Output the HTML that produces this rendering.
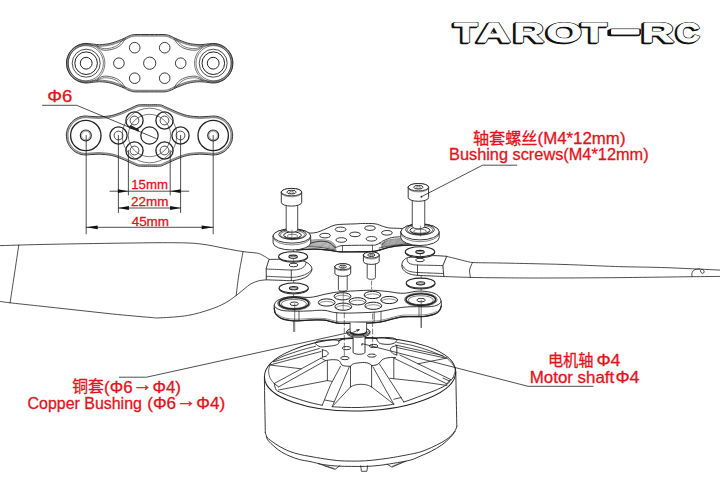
<!DOCTYPE html>
<html lang="zh"><head><meta charset="utf-8"><title>Tarot-RC bushing diagram</title>
<style>
html,body{margin:0;padding:0;background:#fff;}
body{width:720px;height:480px;overflow:hidden;}
svg{display:block;}
svg path,svg line{stroke-linecap:round;stroke-linejoin:round;}
</style></head><body>
<svg width="720" height="480" viewBox="0 0 720 480">
<rect width="720" height="480" fill="#fff"/>
<g id="part1">
<path d="M149.7 34.5 C152.7 34.5 156.12 34.48 158.7 34.5 C161.28 34.52 163.53 34.47 165.2 34.6 C166.87 34.73 167.62 34.98 168.7 35.3 C169.78 35.62 170.65 36.02 171.7 36.5 C172.75 36.98 173.42 37.48 175 38.2 C176.58 38.92 179.12 40 181.2 40.8 C183.28 41.6 185.42 42.43 187.5 43 C189.58 43.57 191.62 43.92 193.7 44.2 C195.78 44.48 198 44.7 200 44.7 C202 44.7 204.09 44.37 205.7 44.2 C207.31 44.03 208.54 43.83 209.66 43.7 C210.78 43.57 211.49 43.44 212.41 43.41 C213.33 43.38 214.26 43.41 215.17 43.51 C216.08 43.6 217 43.77 217.89 43.99 C218.78 44.21 219.67 44.5 220.52 44.84 C221.37 45.19 222.2 45.59 223 46.05 C223.8 46.51 224.57 47.03 225.29 47.6 C226.01 48.16 226.7 48.79 227.34 49.45 C227.98 50.11 228.58 50.82 229.12 51.56 C229.66 52.3 230.15 53.09 230.58 53.9 C231.01 54.72 231.39 55.56 231.71 56.43 C232.02 57.29 232.28 58.18 232.47 59.08 C232.66 59.98 232.85 60.45 232.85 61.82 C232.85 63.19 232.66 65.96 232.47 67.32 C232.28 68.68 232.02 69.11 231.71 69.97 C231.39 70.84 231.01 71.68 230.58 72.5 C230.15 73.31 229.66 74.1 229.12 74.84 C228.58 75.58 227.98 76.29 227.34 76.95 C226.7 77.61 226.01 78.24 225.29 78.8 C224.57 79.37 223.8 79.89 223 80.35 C222.2 80.81 221.37 81.21 220.52 81.56 C219.67 81.9 218.78 82.19 217.89 82.41 C217 82.63 216.08 82.8 215.17 82.89 C214.26 82.99 213.33 83.02 212.41 82.99 C211.49 82.96 210.78 82.83 209.66 82.7 C208.54 82.57 207.31 82.37 205.7 82.2 C204.09 82.03 202 81.7 200 81.7 C198 81.7 195.78 81.92 193.7 82.2 C191.62 82.48 189.58 82.83 187.5 83.4 C185.42 83.97 183.28 84.8 181.2 85.6 C179.12 86.4 176.58 87.48 175 88.2 C173.42 88.92 172.75 89.42 171.7 89.9 C170.65 90.38 169.78 90.78 168.7 91.1 C167.62 91.42 166.87 91.67 165.2 91.8 C163.53 91.93 161.28 91.88 158.7 91.9 C156.12 91.92 152.7 91.9 149.7 91.9 C146.7 91.9 143.28 91.92 140.7 91.9 C138.12 91.88 135.87 91.93 134.2 91.8 C132.53 91.67 131.78 91.42 130.7 91.1 C129.62 90.78 128.75 90.38 127.7 89.9 C126.65 89.42 125.98 88.92 124.4 88.2 C122.82 87.48 120.28 86.4 118.2 85.6 C116.12 84.8 113.98 83.97 111.9 83.4 C109.82 82.83 107.78 82.48 105.7 82.2 C103.62 81.92 101.4 81.7 99.4 81.7 C97.4 81.7 95.31 82.03 93.7 82.2 C92.09 82.37 90.86 82.57 89.74 82.7 C88.62 82.83 87.91 82.96 86.99 82.99 C86.07 83.02 85.14 82.99 84.23 82.89 C83.32 82.8 82.4 82.63 81.51 82.41 C80.62 82.19 79.73 81.9 78.88 81.56 C78.03 81.21 77.2 80.81 76.4 80.35 C75.6 79.89 74.83 79.37 74.11 78.8 C73.39 78.24 72.7 77.61 72.06 76.95 C71.42 76.29 70.82 75.58 70.28 74.84 C69.74 74.1 69.25 73.31 68.82 72.5 C68.39 71.68 68.01 70.84 67.69 69.97 C67.38 69.11 67.12 68.68 66.93 67.32 C66.74 65.96 66.55 63.19 66.55 61.82 C66.55 60.45 66.74 59.98 66.93 59.08 C67.12 58.18 67.38 57.29 67.69 56.43 C68.01 55.56 68.39 54.72 68.82 53.9 C69.25 53.09 69.74 52.3 70.28 51.56 C70.82 50.82 71.42 50.11 72.06 49.45 C72.7 48.79 73.39 48.16 74.11 47.6 C74.83 47.03 75.6 46.51 76.4 46.05 C77.2 45.59 78.03 45.19 78.88 44.84 C79.73 44.5 80.62 44.21 81.51 43.99 C82.4 43.77 83.32 43.6 84.23 43.51 C85.14 43.41 86.07 43.38 86.99 43.41 C87.91 43.44 88.62 43.57 89.74 43.7 C90.86 43.83 92.09 44.03 93.7 44.2 C95.31 44.37 97.4 44.7 99.4 44.7 C101.4 44.7 103.62 44.48 105.7 44.2 C107.78 43.92 109.82 43.57 111.9 43 C113.98 42.43 116.12 41.6 118.2 40.8 C120.28 40 122.82 38.92 124.4 38.2 C125.98 37.48 126.65 36.98 127.7 36.5 C128.75 36.02 129.62 35.62 130.7 35.3 C131.78 34.98 132.53 34.73 134.2 34.6 C135.87 34.47 138.12 34.52 140.7 34.5 C143.28 34.48 146.7 34.5 149.7 34.5" fill="#fff" stroke="#222" stroke-width="0.9"  style="stroke-linecap:butt"/>
<path d="M149.7 36.1 C152.7 36.1 156.13 36.08 158.69 36.1 C161.25 36.12 163.48 36.07 165.07 36.19 C166.67 36.32 167.26 36.54 168.25 36.84 C169.24 37.13 170.02 37.48 171.03 37.95 C172.05 38.42 172.74 38.93 174.34 39.66 C175.94 40.38 178.5 41.48 180.63 42.29 C182.75 43.11 184.94 43.96 187.08 44.54 C189.22 45.13 191.33 45.49 193.48 45.79 C195.64 46.08 197.94 46.3 200 46.3 C202.06 46.3 204.18 45.96 205.84 45.79 C207.5 45.62 208.84 45.41 209.94 45.28 C211.04 45.15 211.62 45.04 212.46 45.01 C213.31 44.98 214.16 45.01 215 45.1 C215.84 45.19 216.68 45.34 217.5 45.54 C218.32 45.74 219.14 46.01 219.92 46.33 C220.7 46.64 221.47 47.02 222.2 47.44 C222.93 47.86 223.64 48.34 224.31 48.86 C224.97 49.38 225.61 49.95 226.19 50.56 C226.78 51.16 227.33 51.82 227.82 52.5 C228.32 53.19 228.77 53.91 229.17 54.66 C229.57 55.4 229.91 56.18 230.2 56.98 C230.49 57.77 230.73 58.59 230.9 59.42 C231.08 60.24 231.26 60.67 231.26 61.93 C231.26 63.19 231.08 65.73 230.9 66.98 C230.73 68.23 230.49 68.63 230.2 69.42 C229.91 70.22 229.57 71 229.17 71.74 C228.77 72.49 228.32 73.21 227.82 73.9 C227.33 74.58 226.78 75.24 226.19 75.84 C225.61 76.45 224.97 77.02 224.31 77.54 C223.64 78.06 222.93 78.54 222.2 78.96 C221.47 79.38 220.7 79.76 219.92 80.07 C219.14 80.39 218.32 80.66 217.5 80.86 C216.68 81.06 215.84 81.21 215 81.3 C214.16 81.39 213.31 81.42 212.46 81.39 C211.62 81.36 211.04 81.25 209.94 81.12 C208.84 80.99 207.5 80.78 205.84 80.61 C204.18 80.44 202.06 80.1 200 80.1 C197.94 80.1 195.64 80.32 193.48 80.61 C191.33 80.91 189.22 81.27 187.08 81.86 C184.94 82.44 182.75 83.29 180.63 84.11 C178.5 84.92 175.94 86.02 174.34 86.74 C172.74 87.47 172.05 87.98 171.03 88.45 C170.02 88.92 169.24 89.27 168.25 89.56 C167.26 89.86 166.67 90.08 165.07 90.21 C163.48 90.33 161.25 90.28 158.69 90.3 C156.13 90.32 152.7 90.3 149.7 90.3 C146.7 90.3 143.27 90.32 140.71 90.3 C138.15 90.28 135.92 90.33 134.33 90.21 C132.73 90.08 132.14 89.86 131.15 89.56 C130.16 89.27 129.38 88.92 128.37 88.45 C127.35 87.98 126.66 87.47 125.06 86.74 C123.46 86.02 120.9 84.92 118.77 84.11 C116.65 83.29 114.46 82.44 112.32 81.86 C110.18 81.27 108.07 80.91 105.92 80.61 C103.76 80.32 101.46 80.1 99.4 80.1 C97.34 80.1 95.22 80.44 93.56 80.61 C91.9 80.78 90.56 80.99 89.46 81.12 C88.36 81.25 87.78 81.36 86.94 81.39 C86.09 81.42 85.24 81.39 84.4 81.3 C83.56 81.21 82.72 81.06 81.9 80.86 C81.08 80.66 80.26 80.39 79.48 80.07 C78.7 79.76 77.93 79.38 77.2 78.96 C76.47 78.54 75.76 78.06 75.09 77.54 C74.43 77.02 73.79 76.45 73.21 75.84 C72.62 75.24 72.07 74.58 71.58 73.9 C71.08 73.21 70.63 72.49 70.23 71.74 C69.83 71 69.49 70.22 69.2 69.42 C68.91 68.63 68.67 68.23 68.5 66.98 C68.32 65.73 68.14 63.19 68.14 61.93 C68.14 60.67 68.32 60.24 68.5 59.42 C68.67 58.59 68.91 57.77 69.2 56.98 C69.49 56.18 69.83 55.4 70.23 54.66 C70.63 53.91 71.08 53.19 71.58 52.5 C72.07 51.82 72.62 51.16 73.21 50.56 C73.79 49.95 74.43 49.38 75.09 48.86 C75.76 48.34 76.47 47.86 77.2 47.44 C77.93 47.02 78.7 46.64 79.48 46.33 C80.26 46.01 81.08 45.74 81.9 45.54 C82.72 45.34 83.56 45.19 84.4 45.1 C85.24 45.01 86.09 44.98 86.94 45.01 C87.78 45.04 88.36 45.15 89.46 45.28 C90.56 45.41 91.9 45.62 93.56 45.79 C95.22 45.96 97.34 46.3 99.4 46.3 C101.46 46.3 103.76 46.08 105.92 45.79 C108.07 45.49 110.18 45.13 112.32 44.54 C114.46 43.96 116.65 43.11 118.77 42.29 C120.9 41.48 123.46 40.38 125.06 39.66 C126.66 38.93 127.35 38.42 128.37 37.95 C129.38 37.48 130.16 37.13 131.15 36.84 C132.14 36.54 132.73 36.32 134.33 36.19 C135.92 36.07 138.15 36.12 140.71 36.1 C143.27 36.08 146.7 36.1 149.7 36.1" fill="none" stroke="#222" stroke-width="0.6"  style="stroke-linecap:butt"/>
<path d="M149.7 35.3 C152.7 35.3 156.12 35.28 158.69 35.3 C161.27 35.32 163.51 35.27 165.14 35.4 C166.77 35.53 167.44 35.76 168.48 36.07 C169.51 36.37 170.33 36.75 171.37 37.23 C172.4 37.7 173.08 38.21 174.67 38.93 C176.26 39.65 178.81 40.74 180.91 41.55 C183.02 42.35 185.18 43.2 187.29 43.77 C189.4 44.35 191.47 44.7 193.59 44.99 C195.71 45.28 197.97 45.5 200 45.5 C202.03 45.5 204.14 45.17 205.77 45 C207.4 44.83 208.69 44.62 209.8 44.49 C210.91 44.36 211.56 44.24 212.44 44.21 C213.32 44.18 214.21 44.21 215.09 44.3 C215.96 44.4 216.84 44.55 217.7 44.76 C218.55 44.98 219.4 45.25 220.22 45.58 C221.03 45.91 221.84 46.3 222.6 46.75 C223.36 47.19 224.1 47.69 224.8 48.23 C225.49 48.77 226.16 49.37 226.77 50 C227.38 50.64 227.95 51.32 228.47 52.03 C228.99 52.75 229.46 53.5 229.88 54.28 C230.29 55.06 230.65 55.87 230.95 56.7 C231.26 57.53 231.5 58.39 231.68 59.25 C231.87 60.11 232.05 60.56 232.05 61.87 C232.05 63.19 231.87 65.85 231.68 67.15 C231.5 68.45 231.26 68.87 230.95 69.7 C230.65 70.53 230.29 71.34 229.88 72.12 C229.46 72.9 228.99 73.65 228.47 74.37 C227.95 75.08 227.38 75.76 226.77 76.4 C226.16 77.03 225.49 77.63 224.8 78.17 C224.1 78.71 223.36 79.21 222.6 79.65 C221.84 80.1 221.03 80.49 220.22 80.82 C219.4 81.15 218.55 81.42 217.7 81.64 C216.84 81.85 215.96 82 215.09 82.1 C214.21 82.19 213.32 82.22 212.44 82.19 C211.56 82.16 210.91 82.04 209.8 81.91 C208.69 81.78 207.4 81.57 205.77 81.4 C204.14 81.23 202.03 80.9 200 80.9 C197.97 80.9 195.71 81.12 193.59 81.41 C191.47 81.7 189.4 82.05 187.29 82.63 C185.18 83.2 183.02 84.05 180.91 84.85 C178.81 85.66 176.26 86.75 174.67 87.47 C173.08 88.19 172.4 88.7 171.37 89.17 C170.33 89.65 169.51 90.03 168.48 90.33 C167.44 90.64 166.77 90.87 165.14 91 C163.51 91.13 161.27 91.08 158.69 91.1 C156.12 91.12 152.7 91.1 149.7 91.1 C146.7 91.1 143.28 91.12 140.71 91.1 C138.13 91.08 135.89 91.13 134.26 91 C132.63 90.87 131.96 90.64 130.92 90.33 C129.89 90.03 129.07 89.65 128.03 89.17 C127 88.7 126.32 88.19 124.73 87.47 C123.14 86.75 120.59 85.66 118.49 84.85 C116.38 84.05 114.22 83.2 112.11 82.63 C110 82.05 107.93 81.7 105.81 81.41 C103.69 81.12 101.43 80.9 99.4 80.9 C97.37 80.9 95.26 81.23 93.63 81.4 C92 81.57 90.71 81.78 89.6 81.91 C88.49 82.04 87.84 82.16 86.96 82.19 C86.08 82.22 85.19 82.19 84.31 82.1 C83.44 82 82.56 81.85 81.7 81.64 C80.85 81.42 80 81.15 79.18 80.82 C78.37 80.49 77.56 80.1 76.8 79.65 C76.04 79.21 75.3 78.71 74.6 78.17 C73.91 77.63 73.24 77.03 72.63 76.4 C72.02 75.76 71.45 75.08 70.93 74.37 C70.41 73.65 69.94 72.9 69.52 72.12 C69.11 71.34 68.75 70.53 68.45 69.7 C68.14 68.87 67.9 68.45 67.72 67.15 C67.53 65.85 67.35 63.19 67.35 61.87 C67.35 60.56 67.53 60.11 67.72 59.25 C67.9 58.39 68.14 57.53 68.45 56.7 C68.75 55.87 69.11 55.06 69.52 54.28 C69.94 53.5 70.41 52.75 70.93 52.03 C71.45 51.32 72.02 50.64 72.63 50 C73.24 49.37 73.91 48.77 74.6 48.23 C75.3 47.69 76.04 47.19 76.8 46.75 C77.56 46.3 78.37 45.91 79.18 45.58 C80 45.25 80.85 44.98 81.7 44.76 C82.56 44.55 83.44 44.4 84.31 44.3 C85.19 44.21 86.08 44.18 86.96 44.21 C87.84 44.24 88.49 44.36 89.6 44.49 C90.71 44.62 92 44.83 93.63 45 C95.26 45.17 97.37 45.5 99.4 45.5 C101.43 45.5 103.69 45.28 105.81 44.99 C107.93 44.7 110 44.35 112.11 43.77 C114.22 43.2 116.38 42.35 118.49 41.55 C120.59 40.74 123.14 39.65 124.73 38.93 C126.32 38.21 127 37.7 128.03 37.23 C129.07 36.75 129.89 36.37 130.92 36.07 C131.96 35.76 132.63 35.53 134.26 35.4 C135.89 35.27 138.13 35.32 140.71 35.3 C143.28 35.28 146.7 35.3 149.7 35.3" fill="none" stroke="#222" stroke-width="0.4"  style="stroke-linecap:butt"/>
<path d="M174.2 38.7 C174.5 39.2 175.25 40.65 176 41.7 C176.75 42.75 177.58 44 178.7 45 C179.82 46 181.23 46.97 182.7 47.7 C184.17 48.43 185.83 48.98 187.5 49.4 C189.17 49.82 191.03 50.13 192.7 50.2 C194.37 50.27 195.92 50.35 197.5 49.8 C199.08 49.25 201.42 47.38 202.2 46.9" fill="none" stroke="#222" stroke-width="0.7" />
<path d="M175.7 38.6 C176.45 39.48 178.87 42.62 180.2 43.9 C181.53 45.18 182.45 45.65 183.7 46.3 C184.95 46.95 186.2 47.42 187.7 47.8 C189.2 48.18 191.03 48.53 192.7 48.6 C194.37 48.67 195.95 48.73 197.7 48.2 C199.45 47.67 202.28 45.87 203.2 45.4" fill="none" stroke="#222" stroke-width="0.6" />
<path d="M174.2 87.7 C174.5 87.2 175.25 85.75 176 84.7 C176.75 83.65 177.58 82.4 178.7 81.4 C179.82 80.4 181.23 79.43 182.7 78.7 C184.17 77.97 185.83 77.42 187.5 77 C189.17 76.58 191.03 76.27 192.7 76.2 C194.37 76.13 195.92 76.05 197.5 76.6 C199.08 77.15 201.42 79.02 202.2 79.5" fill="none" stroke="#222" stroke-width="0.7" />
<path d="M175.7 87.8 C176.45 86.92 178.87 83.78 180.2 82.5 C181.53 81.22 182.45 80.75 183.7 80.1 C184.95 79.45 186.2 78.98 187.7 78.6 C189.2 78.22 191.03 77.87 192.7 77.8 C194.37 77.73 195.95 77.67 197.7 78.2 C199.45 78.73 202.28 80.53 203.2 81" fill="none" stroke="#222" stroke-width="0.6" />
<path d="M125.2 38.7 C124.9 39.2 124.15 40.65 123.4 41.7 C122.65 42.75 121.82 44 120.7 45 C119.58 46 118.17 46.97 116.7 47.7 C115.23 48.43 113.57 48.98 111.9 49.4 C110.23 49.82 108.37 50.13 106.7 50.2 C105.03 50.27 103.48 50.35 101.9 49.8 C100.32 49.25 97.98 47.38 97.2 46.9" fill="none" stroke="#222" stroke-width="0.7" />
<path d="M123.7 38.6 C122.95 39.48 120.53 42.62 119.2 43.9 C117.87 45.18 116.95 45.65 115.7 46.3 C114.45 46.95 113.2 47.42 111.7 47.8 C110.2 48.18 108.37 48.53 106.7 48.6 C105.03 48.67 103.45 48.73 101.7 48.2 C99.95 47.67 97.12 45.87 96.2 45.4" fill="none" stroke="#222" stroke-width="0.6" />
<path d="M125.2 87.7 C124.9 87.2 124.15 85.75 123.4 84.7 C122.65 83.65 121.82 82.4 120.7 81.4 C119.58 80.4 118.17 79.43 116.7 78.7 C115.23 77.97 113.57 77.42 111.9 77 C110.23 76.58 108.37 76.27 106.7 76.2 C105.03 76.13 103.48 76.05 101.9 76.6 C100.32 77.15 97.98 79.02 97.2 79.5" fill="none" stroke="#222" stroke-width="0.7" />
<path d="M123.7 87.8 C122.95 86.92 120.53 83.78 119.2 82.5 C117.87 81.22 116.95 80.75 115.7 80.1 C114.45 79.45 113.2 78.98 111.7 78.6 C110.2 78.22 108.37 77.87 106.7 77.8 C105.03 77.73 103.45 77.67 101.7 78.2 C99.95 78.73 97.12 80.53 96.2 81" fill="none" stroke="#222" stroke-width="0.6" />
<ellipse cx="85.75" cy="63.2" rx="19.15" ry="19.15" fill="none" stroke="#222" stroke-width="0.6" />
<ellipse cx="85.8" cy="63.2" rx="17.6" ry="17.6" fill="none" stroke="#222" stroke-width="0.6" />
<ellipse cx="86.2" cy="63.2" rx="14" ry="14" fill="none" stroke="#222" stroke-width="0.8" />
<ellipse cx="86.1" cy="63.2" rx="11.3" ry="11.3" fill="none" stroke="#222" stroke-width="1.0" />
<ellipse cx="86.2" cy="63.2" rx="5.9" ry="5.9" fill="none" stroke="#222" stroke-width="1.0" />
<ellipse cx="213.65" cy="63.2" rx="19.15" ry="19.15" fill="none" stroke="#222" stroke-width="0.6" />
<ellipse cx="213.6" cy="63.2" rx="17.6" ry="17.6" fill="none" stroke="#222" stroke-width="0.6" />
<ellipse cx="213.2" cy="63.2" rx="14" ry="14" fill="none" stroke="#222" stroke-width="0.8" />
<ellipse cx="213.3" cy="63.2" rx="11.3" ry="11.3" fill="none" stroke="#222" stroke-width="1.0" />
<ellipse cx="213.2" cy="63.2" rx="5.9" ry="5.9" fill="none" stroke="#222" stroke-width="1.0" />
<ellipse cx="149.7" cy="63.2" rx="6.1" ry="6.1" fill="none" stroke="#222" stroke-width="0.9" />
<ellipse cx="134.7" cy="47.7" rx="5.3" ry="5.3" fill="none" stroke="#222" stroke-width="0.9" />
<ellipse cx="164.7" cy="47.7" rx="5.3" ry="5.3" fill="none" stroke="#222" stroke-width="0.9" />
<ellipse cx="118.9" cy="63.2" rx="5.3" ry="5.3" fill="none" stroke="#222" stroke-width="0.9" />
<ellipse cx="180.7" cy="63.2" rx="5.3" ry="5.3" fill="none" stroke="#222" stroke-width="0.9" />
<ellipse cx="134.7" cy="78.2" rx="5.3" ry="5.3" fill="none" stroke="#222" stroke-width="0.9" />
<ellipse cx="164.7" cy="78.2" rx="5.3" ry="5.3" fill="none" stroke="#222" stroke-width="0.9" />
<path d="M149.5 104.7 C152.17 104.7 155.5 104.63 157.5 104.7 C159.5 104.77 160.28 104.78 161.5 105.1 C162.72 105.42 163.42 105.98 164.8 106.6 C166.18 107.22 168.13 108.05 169.8 108.8 C171.47 109.55 172.93 110.3 174.8 111.1 C176.67 111.9 178.92 112.87 181 113.6 C183.08 114.33 185.22 115.03 187.3 115.5 C189.38 115.97 191.42 116.18 193.5 116.4 C195.58 116.62 197.72 116.78 199.8 116.8 C201.88 116.82 204.33 116.58 206 116.5 C207.67 116.42 208.73 116.38 209.81 116.3 C210.9 116.21 211.62 116.04 212.52 116.01 C213.42 115.98 214.34 116.01 215.24 116.11 C216.14 116.2 217.04 116.36 217.92 116.58 C218.8 116.8 219.67 117.08 220.5 117.42 C221.34 117.76 222.17 118.16 222.95 118.61 C223.73 119.06 224.49 119.58 225.21 120.13 C225.92 120.69 226.6 121.3 227.23 121.95 C227.86 122.6 228.44 123.31 228.98 124.04 C229.51 124.77 229.99 125.55 230.42 126.35 C230.84 127.14 231.21 127.98 231.52 128.83 C231.83 129.68 232.09 130.56 232.27 131.45 C232.46 132.33 232.65 132.79 232.65 134.14 C232.65 135.49 232.46 138.22 232.27 139.55 C232.09 140.89 231.83 141.32 231.52 142.17 C231.21 143.02 230.84 143.86 230.42 144.65 C229.99 145.45 229.51 146.23 228.98 146.96 C228.44 147.69 227.86 148.4 227.23 149.05 C226.6 149.7 225.92 150.31 225.21 150.87 C224.49 151.42 223.73 151.94 222.95 152.39 C222.17 152.84 221.34 153.24 220.5 153.58 C219.67 153.92 218.8 154.2 217.92 154.42 C217.04 154.64 216.14 154.8 215.24 154.89 C214.34 154.99 213.42 155.02 212.52 154.99 C211.62 154.96 210.9 154.79 209.81 154.7 C208.73 154.62 207.67 154.58 206 154.5 C204.33 154.42 201.88 154.18 199.8 154.2 C197.72 154.22 195.58 154.38 193.5 154.6 C191.42 154.82 189.38 155.03 187.3 155.5 C185.22 155.97 183.08 156.67 181 157.4 C178.92 158.13 176.67 159.1 174.8 159.9 C172.93 160.7 171.47 161.45 169.8 162.2 C168.13 162.95 166.18 163.78 164.8 164.4 C163.42 165.02 162.72 165.58 161.5 165.9 C160.28 166.22 159.5 166.23 157.5 166.3 C155.5 166.37 152.17 166.3 149.5 166.3 C146.83 166.3 143.5 166.37 141.5 166.3 C139.5 166.23 138.72 166.22 137.5 165.9 C136.28 165.58 135.58 165.02 134.2 164.4 C132.82 163.78 130.87 162.95 129.2 162.2 C127.53 161.45 126.07 160.7 124.2 159.9 C122.33 159.1 120.08 158.13 118 157.4 C115.92 156.67 113.78 155.97 111.7 155.5 C109.62 155.03 107.58 154.82 105.5 154.6 C103.42 154.38 101.28 154.22 99.2 154.2 C97.12 154.18 94.67 154.42 93 154.5 C91.33 154.58 90.27 154.62 89.19 154.7 C88.1 154.79 87.38 154.96 86.48 154.99 C85.58 155.02 84.66 154.99 83.76 154.89 C82.86 154.8 81.96 154.64 81.08 154.42 C80.2 154.2 79.33 153.92 78.5 153.58 C77.66 153.24 76.83 152.84 76.05 152.39 C75.27 151.94 74.51 151.42 73.79 150.87 C73.08 150.31 72.4 149.7 71.77 149.05 C71.14 148.4 70.56 147.69 70.02 146.96 C69.49 146.23 69.01 145.45 68.58 144.65 C68.16 143.86 67.79 143.02 67.48 142.17 C67.17 141.32 66.91 140.89 66.73 139.55 C66.54 138.22 66.35 135.49 66.35 134.14 C66.35 132.79 66.54 132.33 66.73 131.45 C66.91 130.56 67.17 129.68 67.48 128.83 C67.79 127.98 68.16 127.14 68.58 126.35 C69.01 125.55 69.49 124.77 70.02 124.04 C70.56 123.31 71.14 122.6 71.77 121.95 C72.4 121.3 73.08 120.69 73.79 120.13 C74.51 119.58 75.27 119.06 76.05 118.61 C76.83 118.16 77.66 117.76 78.5 117.42 C79.33 117.08 80.2 116.8 81.08 116.58 C81.96 116.36 82.86 116.2 83.76 116.11 C84.66 116.01 85.58 115.98 86.48 116.01 C87.38 116.04 88.1 116.21 89.19 116.3 C90.27 116.38 91.33 116.42 93 116.5 C94.67 116.58 97.12 116.82 99.2 116.8 C101.28 116.78 103.42 116.62 105.5 116.4 C107.58 116.18 109.62 115.97 111.7 115.5 C113.78 115.03 115.92 114.33 118 113.6 C120.08 112.87 122.33 111.9 124.2 111.1 C126.07 110.3 127.53 109.55 129.2 108.8 C130.87 108.05 132.82 107.22 134.2 106.6 C135.58 105.98 136.28 105.42 137.5 105.1 C138.72 104.78 139.5 104.77 141.5 104.7 C143.5 104.63 146.83 104.7 149.5 104.7" fill="#fff" stroke="#222" stroke-width="0.9"  style="stroke-linecap:butt"/>
<path d="M149.5 106.3 C152.15 106.3 155.51 106.24 157.45 106.3 C159.38 106.36 159.98 106.35 161.1 106.65 C162.21 106.94 162.81 107.46 164.15 108.06 C165.49 108.66 167.47 109.51 169.14 110.26 C170.81 111.01 172.28 111.76 174.17 112.57 C176.06 113.38 178.34 114.36 180.47 115.11 C182.6 115.86 184.81 116.58 186.95 117.06 C189.09 117.54 191.2 117.77 193.33 117.99 C195.47 118.21 197.66 118.38 199.79 118.4 C201.91 118.42 204.36 118.19 206.08 118.1 C207.79 118.01 209.01 117.95 210.09 117.87 C211.17 117.79 211.75 117.64 212.58 117.61 C213.41 117.58 214.25 117.61 215.07 117.7 C215.9 117.78 216.72 117.93 217.53 118.13 C218.34 118.33 219.14 118.59 219.91 118.9 C220.68 119.21 221.43 119.58 222.15 120 C222.87 120.41 223.57 120.88 224.22 121.39 C224.87 121.91 225.5 122.47 226.08 123.07 C226.65 123.66 227.19 124.31 227.68 124.98 C228.17 125.65 228.61 126.36 229 127.1 C229.39 127.83 229.74 128.6 230.02 129.38 C230.3 130.16 230.54 130.97 230.71 131.78 C230.88 132.59 231.06 133.01 231.06 134.25 C231.06 135.49 230.88 137.99 230.71 139.22 C230.54 140.45 230.3 140.84 230.02 141.62 C229.74 142.4 229.39 143.17 229 143.9 C228.61 144.64 228.17 145.35 227.68 146.02 C227.19 146.69 226.65 147.34 226.08 147.93 C225.5 148.53 224.87 149.09 224.22 149.61 C223.57 150.12 222.87 150.59 222.15 151 C221.43 151.42 220.68 151.79 219.91 152.1 C219.14 152.41 218.34 152.67 217.53 152.87 C216.72 153.07 215.9 153.22 215.07 153.3 C214.25 153.39 213.41 153.42 212.58 153.39 C211.75 153.36 211.17 153.21 210.09 153.13 C209.01 153.05 207.79 152.99 206.08 152.9 C204.36 152.81 201.91 152.58 199.79 152.6 C197.66 152.62 195.47 152.79 193.33 153.01 C191.2 153.23 189.09 153.46 186.95 153.94 C184.81 154.42 182.6 155.14 180.47 155.89 C178.34 156.64 176.06 157.62 174.17 158.43 C172.28 159.24 170.81 159.99 169.14 160.74 C167.47 161.49 165.49 162.34 164.15 162.94 C162.81 163.54 162.21 164.06 161.1 164.35 C159.98 164.65 159.38 164.64 157.45 164.7 C155.51 164.76 152.15 164.7 149.5 164.7 C146.85 164.7 143.49 164.76 141.55 164.7 C139.62 164.64 139.02 164.65 137.9 164.35 C136.79 164.06 136.19 163.54 134.85 162.94 C133.51 162.34 131.53 161.49 129.86 160.74 C128.19 159.99 126.72 159.24 124.83 158.43 C122.94 157.62 120.66 156.64 118.53 155.89 C116.4 155.14 114.19 154.42 112.05 153.94 C109.91 153.46 107.8 153.23 105.67 153.01 C103.53 152.79 101.34 152.62 99.21 152.6 C97.09 152.58 94.64 152.81 92.92 152.9 C91.21 152.99 89.99 153.05 88.91 153.13 C87.83 153.21 87.25 153.36 86.42 153.39 C85.59 153.42 84.75 153.39 83.93 153.3 C83.1 153.22 82.28 153.07 81.47 152.87 C80.66 152.67 79.86 152.41 79.09 152.1 C78.32 151.79 77.57 151.42 76.85 151 C76.13 150.59 75.43 150.12 74.78 149.61 C74.13 149.09 73.5 148.53 72.92 147.93 C72.35 147.34 71.81 146.69 71.32 146.02 C70.83 145.35 70.39 144.64 70 143.9 C69.61 143.17 69.26 142.4 68.98 141.62 C68.7 140.84 68.46 140.45 68.29 139.22 C68.12 137.99 67.94 135.49 67.94 134.25 C67.94 133.01 68.12 132.59 68.29 131.78 C68.46 130.97 68.7 130.16 68.98 129.38 C69.26 128.6 69.61 127.83 70 127.1 C70.39 126.36 70.83 125.65 71.32 124.98 C71.81 124.31 72.35 123.66 72.92 123.07 C73.5 122.47 74.13 121.91 74.78 121.39 C75.43 120.88 76.13 120.41 76.85 120 C77.57 119.58 78.32 119.21 79.09 118.9 C79.86 118.59 80.66 118.33 81.47 118.13 C82.28 117.93 83.1 117.78 83.93 117.7 C84.75 117.61 85.59 117.58 86.42 117.61 C87.25 117.64 87.83 117.79 88.91 117.87 C89.99 117.95 91.21 118.01 92.92 118.1 C94.64 118.19 97.09 118.42 99.21 118.4 C101.34 118.38 103.53 118.21 105.67 117.99 C107.8 117.77 109.91 117.54 112.05 117.06 C114.19 116.58 116.4 115.86 118.53 115.11 C120.66 114.36 122.94 113.38 124.83 112.57 C126.72 111.76 128.19 111.01 129.86 110.26 C131.53 109.51 133.51 108.66 134.85 108.06 C136.19 107.46 136.79 106.94 137.9 106.65 C139.02 106.35 139.62 106.36 141.55 106.3 C143.49 106.24 146.85 106.3 149.5 106.3" fill="none" stroke="#222" stroke-width="0.6"  style="stroke-linecap:butt"/>
<path d="M149.5 105.5 C152.16 105.5 155.51 105.44 157.47 105.5 C159.44 105.56 160.13 105.57 161.3 105.87 C162.47 106.18 163.11 106.72 164.47 107.33 C165.84 107.94 167.8 108.78 169.47 109.53 C171.14 110.28 172.61 111.03 174.48 111.84 C176.36 112.64 178.63 113.61 180.73 114.35 C182.84 115.1 185.01 115.81 187.13 116.28 C189.24 116.75 191.31 116.98 193.42 117.2 C195.53 117.42 197.69 117.58 199.79 117.6 C201.9 117.62 204.35 117.39 206.04 117.3 C207.73 117.21 208.87 117.17 209.95 117.08 C211.04 117 211.68 116.84 212.55 116.81 C213.41 116.78 214.29 116.81 215.15 116.9 C216.02 116.99 216.88 117.15 217.72 117.36 C218.57 117.57 219.4 117.84 220.21 118.16 C221.01 118.49 221.8 118.87 222.55 119.31 C223.3 119.74 224.03 120.23 224.71 120.76 C225.4 121.3 226.05 121.89 226.65 122.51 C227.25 123.13 227.82 123.81 228.33 124.51 C228.84 125.21 229.3 125.95 229.71 126.72 C230.12 127.49 230.48 128.29 230.77 129.1 C231.07 129.92 231.31 130.76 231.49 131.61 C231.67 132.46 231.85 132.9 231.85 134.2 C231.85 135.49 231.67 138.1 231.49 139.39 C231.31 140.67 231.07 141.08 230.77 141.9 C230.48 142.71 230.12 143.51 229.71 144.28 C229.3 145.05 228.84 145.79 228.33 146.49 C227.82 147.19 227.25 147.87 226.65 148.49 C226.05 149.11 225.4 149.7 224.71 150.24 C224.03 150.77 223.3 151.26 222.55 151.69 C221.8 152.13 221.01 152.51 220.21 152.84 C219.4 153.16 218.57 153.43 217.72 153.64 C216.88 153.85 216.02 154.01 215.15 154.1 C214.29 154.19 213.41 154.22 212.55 154.19 C211.68 154.16 211.04 154 209.95 153.92 C208.87 153.83 207.73 153.79 206.04 153.7 C204.35 153.61 201.9 153.38 199.79 153.4 C197.69 153.42 195.53 153.58 193.42 153.8 C191.31 154.02 189.24 154.25 187.13 154.72 C185.01 155.19 182.84 155.9 180.73 156.65 C178.63 157.39 176.36 158.36 174.48 159.16 C172.61 159.97 171.14 160.72 169.47 161.47 C167.8 162.22 165.84 163.06 164.47 163.67 C163.11 164.28 162.47 164.82 161.3 165.13 C160.13 165.43 159.44 165.44 157.47 165.5 C155.51 165.56 152.16 165.5 149.5 165.5 C146.84 165.5 143.49 165.56 141.53 165.5 C139.56 165.44 138.87 165.43 137.7 165.13 C136.53 164.82 135.89 164.28 134.53 163.67 C133.16 163.06 131.2 162.22 129.53 161.47 C127.86 160.72 126.39 159.97 124.52 159.16 C122.64 158.36 120.37 157.39 118.27 156.65 C116.16 155.9 113.99 155.19 111.87 154.72 C109.76 154.25 107.69 154.02 105.58 153.8 C103.47 153.58 101.31 153.42 99.21 153.4 C97.1 153.38 94.65 153.61 92.96 153.7 C91.27 153.79 90.13 153.83 89.05 153.92 C87.96 154 87.32 154.16 86.45 154.19 C85.59 154.22 84.71 154.19 83.85 154.1 C82.98 154.01 82.12 153.85 81.28 153.64 C80.43 153.43 79.6 153.16 78.79 152.84 C77.99 152.51 77.2 152.13 76.45 151.69 C75.7 151.26 74.97 150.77 74.29 150.24 C73.6 149.7 72.95 149.11 72.35 148.49 C71.75 147.87 71.18 147.19 70.67 146.49 C70.16 145.79 69.7 145.05 69.29 144.28 C68.88 143.51 68.52 142.71 68.23 141.9 C67.93 141.08 67.69 140.67 67.51 139.39 C67.33 138.1 67.15 135.49 67.15 134.2 C67.15 132.9 67.33 132.46 67.51 131.61 C67.69 130.76 67.93 129.92 68.23 129.1 C68.52 128.29 68.88 127.49 69.29 126.72 C69.7 125.95 70.16 125.21 70.67 124.51 C71.18 123.81 71.75 123.13 72.35 122.51 C72.95 121.89 73.6 121.3 74.29 120.76 C74.97 120.23 75.7 119.74 76.45 119.31 C77.2 118.87 77.99 118.49 78.79 118.16 C79.6 117.84 80.43 117.57 81.28 117.36 C82.12 117.15 82.98 116.99 83.85 116.9 C84.71 116.81 85.59 116.78 86.45 116.81 C87.32 116.84 87.96 117 89.05 117.08 C90.13 117.17 91.27 117.21 92.96 117.3 C94.65 117.39 97.1 117.62 99.21 117.6 C101.31 117.58 103.47 117.42 105.58 117.2 C107.69 116.98 109.76 116.75 111.87 116.28 C113.99 115.81 116.16 115.1 118.27 114.35 C120.37 113.61 122.64 112.64 124.52 111.84 C126.39 111.03 127.86 110.28 129.53 109.53 C131.2 108.78 133.16 107.94 134.53 107.33 C135.89 106.72 136.53 106.18 137.7 105.87 C138.87 105.57 139.56 105.56 141.53 105.5 C143.49 105.44 146.84 105.5 149.5 105.5" fill="none" stroke="#222" stroke-width="0.4"  style="stroke-linecap:butt"/>
<ellipse cx="149.5" cy="135.5" rx="27.3" ry="27.3" fill="none" stroke="#222" stroke-width="0.6" />
<ellipse cx="85.8" cy="135.5" rx="15.2" ry="15.2" fill="none" stroke="#222" stroke-width="1.3" />
<ellipse cx="85.8" cy="135.5" rx="5.5" ry="5.5" fill="none" stroke="#222" stroke-width="1.1" />
<ellipse cx="85.8" cy="135.5" rx="4.3" ry="4.3" fill="none" stroke="#222" stroke-width="0.4" />
<ellipse cx="213.2" cy="135.5" rx="15.2" ry="15.2" fill="none" stroke="#222" stroke-width="1.3" />
<ellipse cx="213.2" cy="135.5" rx="5.5" ry="5.5" fill="none" stroke="#222" stroke-width="1.1" />
<ellipse cx="213.2" cy="135.5" rx="4.3" ry="4.3" fill="none" stroke="#222" stroke-width="0.4" />
<ellipse cx="149.5" cy="135.5" rx="8.7" ry="8.7" fill="none" stroke="#222" stroke-width="1.2" />
<ellipse cx="134.5" cy="120.5" rx="8.6" ry="8.6" fill="none" stroke="#222" stroke-width="1.3" />
<ellipse cx="134.5" cy="120.5" rx="4.4" ry="4.4" fill="none" stroke="#222" stroke-width="0.8" />
<ellipse cx="164.5" cy="120.5" rx="8.6" ry="8.6" fill="none" stroke="#222" stroke-width="1.3" />
<ellipse cx="164.5" cy="120.5" rx="4.4" ry="4.4" fill="none" stroke="#222" stroke-width="0.8" />
<ellipse cx="118.5" cy="135.5" rx="8.6" ry="8.6" fill="none" stroke="#222" stroke-width="1.3" />
<ellipse cx="118.5" cy="135.5" rx="4.4" ry="4.4" fill="none" stroke="#222" stroke-width="0.8" />
<ellipse cx="180.5" cy="135.5" rx="8.6" ry="8.6" fill="none" stroke="#222" stroke-width="1.3" />
<ellipse cx="180.5" cy="135.5" rx="4.4" ry="4.4" fill="none" stroke="#222" stroke-width="0.8" />
<ellipse cx="134.5" cy="150.5" rx="8.6" ry="8.6" fill="none" stroke="#222" stroke-width="1.3" />
<ellipse cx="134.5" cy="150.5" rx="4.4" ry="4.4" fill="none" stroke="#222" stroke-width="0.8" />
<ellipse cx="164.5" cy="150.5" rx="8.6" ry="8.6" fill="none" stroke="#222" stroke-width="1.3" />
<ellipse cx="164.5" cy="150.5" rx="4.4" ry="4.4" fill="none" stroke="#222" stroke-width="0.8" />
<ellipse cx="149.5" cy="135.5" rx="21.2" ry="21.2" fill="none" stroke="#222" stroke-width="0.6" />
<path d="M42.6 105.3 L76.7 105.3 L156.4 138.6" fill="none" stroke="#222" stroke-width="0.8" />
<path d="M130.5 126.3 L138 130.3" fill="none" stroke="#222" stroke-width="2.2" />
<line x1="86.2" y1="135.5" x2="86.2" y2="233.8" stroke="#222" stroke-width="0.8" />
<line x1="213.2" y1="135.5" x2="213.2" y2="233.8" stroke="#222" stroke-width="0.8" />
<line x1="118.4" y1="135.5" x2="118.4" y2="212.5" stroke="#222" stroke-width="0.8" />
<line x1="180.6" y1="135.5" x2="180.6" y2="212.5" stroke="#222" stroke-width="0.8" />
<line x1="128.4" y1="150.5" x2="128.4" y2="195" stroke="#222" stroke-width="0.8" />
<line x1="170.2" y1="150.5" x2="170.2" y2="195" stroke="#222" stroke-width="0.8" />
<line x1="110" y1="191.2" x2="188.8" y2="191.2" stroke="#222" stroke-width="0.8" />
<path d="M128.4 191.2 L117.9 189.3 L117.9 193.1Z" fill="#111"/>
<path d="M170.2 191.2 L180.7 189.3 L180.7 193.1Z" fill="#111"/>
<line x1="118.4" y1="208" x2="180.6" y2="208" stroke="#222" stroke-width="0.8" />
<path d="M118.4 208 L128.9 206.1 L128.9 209.9Z" fill="#111"/>
<path d="M180.6 208 L170.1 206.1 L170.1 209.9Z" fill="#111"/>
<line x1="86.2" y1="227.3" x2="213.2" y2="227.3" stroke="#222" stroke-width="0.8" />
<path d="M86.2 227.3 L97.7 225.4 L97.7 229.2Z" fill="#111"/>
<path d="M213.2 227.3 L201.7 225.4 L201.7 229.2Z" fill="#111"/>
</g>
<g id="part_motor">
<path d="M264.75 379.69 C264.7 379.19 264.43 377.69 264.44 376.69 C264.44 375.69 264.55 374.68 264.76 373.67 C264.98 372.67 265.3 371.66 265.73 370.66 C266.16 369.66 266.7 368.66 267.34 367.67 C267.98 366.69 268.72 365.7 269.57 364.73 C270.41 363.76 271.36 362.8 272.4 361.85 C273.45 360.91 274.59 359.97 275.83 359.06 C277.07 358.14 278.4 357.24 279.82 356.36 C281.24 355.49 282.76 354.63 284.36 353.79 C285.95 352.96 287.64 352.14 289.4 351.36 C291.16 350.57 293 349.81 294.92 349.08 C296.83 348.35 298.82 347.64 300.87 346.97 C302.92 346.3 305.05 345.65 307.23 345.04 C309.4 344.43 311.65 343.85 313.94 343.31 C316.23 342.77 318.57 342.26 320.96 341.79 C323.34 341.32 325.78 340.88 328.24 340.49 C330.71 340.09 333.21 339.73 335.74 339.41 C338.27 339.09 340.83 338.81 343.4 338.57 C345.98 338.33 348.58 338.13 351.18 337.97 C353.78 337.81 356.4 337.69 359.01 337.62 C361.62 337.54 364.25 337.5 366.85 337.51 C369.46 337.51 372.07 337.56 374.65 337.65 C377.23 337.73 379.81 337.86 382.35 338.03 C384.89 338.2 387.41 338.41 389.9 338.66 C392.38 338.91 394.84 339.2 397.25 339.53 C399.65 339.86 402.03 340.22 404.34 340.63 C406.66 341.03 408.93 341.48 411.14 341.96 C413.35 342.44 415.51 342.95 417.6 343.5 C419.69 344.05 421.72 344.64 423.67 345.26 C425.63 345.87 427.51 346.53 429.32 347.21 C431.12 347.89 432.85 348.6 434.5 349.34 C436.14 350.07 437.7 350.84 439.17 351.63 C440.64 352.43 442.03 353.25 443.32 354.09 C444.61 354.93 445.81 355.79 446.91 356.67 C448 357.55 449.01 358.46 449.91 359.38 C450.81 360.3 451.61 361.24 452.31 362.18 C453 363.13 453.6 364.1 454.08 365.07 C454.57 366.04 454.96 367.03 455.23 368.02 C455.51 369.01 455.68 370.01 455.74 371.01 C455.8 372.01 455.62 373.52 455.6 374.03 L456.8 428 L455.2 431.5 C454.33 432.53 452.25 435.45 450 437.7 C447.75 439.95 444.82 442.74 441.7 445 C438.57 447.26 434.73 449.43 431.25 451.25 C427.77 453.07 424.28 454.42 420.8 455.9 C417.32 457.38 414.98 458.87 410.4 460.1 C405.82 461.33 398.47 462.42 393.3 463.3 C388.13 464.18 384.02 464.88 379.4 465.4 C374.78 465.92 370.22 466.23 365.6 466.4 C360.98 466.57 356.33 466.45 351.7 466.4 C347.07 466.35 342.43 466.38 337.8 466.1 C333.17 465.82 328.53 465.47 323.9 464.7 C319.27 463.93 314.03 462.35 310 461.5 C305.97 460.65 303.16 460.53 299.7 459.6 C296.24 458.67 292.73 457.47 289.25 455.9 C285.77 454.33 282.28 452.72 278.8 450.2 C275.32 447.68 270.45 443.08 268.4 440.8 C266.35 438.52 266.82 437.22 266.5 436.5 L265.3 433 Z" fill="#fff" stroke="none"/>
<path d="M318.3 463.6 L335 469.4 L339.9 465.6" fill="#fff" stroke="#222" stroke-width="0.8" />
<path d="M324.5 465.6 L334.2 468.4" fill="none" stroke="#222" stroke-width="0.6" />
<path d="M360.7 465.8 L361.4 471.3 L366.9 471.3 L367.6 465.8" fill="#fff" stroke="#222" stroke-width="0.8" />
<path d="M387.1 464.2 L391.9 467.1 L405.8 461.2" fill="#fff" stroke="#222" stroke-width="0.8" />
<path d="M392.5 466.2 L402 462.3" fill="none" stroke="#222" stroke-width="0.6" />
<path d="M264.4 377 C264.45 380.83 264.58 392.83 264.7 400 C264.82 407.17 265 414.58 265.1 420 C265.2 425.42 265.27 430.42 265.3 432.5" fill="none" stroke="#222" stroke-width="0.9" />
<path d="M455.8 372 C455.87 375.83 456.07 387.83 456.2 395 C456.33 402.17 456.5 409.78 456.6 415 C456.7 420.22 456.77 424.42 456.8 426.3" fill="none" stroke="#222" stroke-width="0.9" />
<path d="M265.3 432.5 C265.47 433 265.78 434.46 266.3 435.5 C266.82 436.54 266.32 437 268.4 438.75 C270.48 440.5 275.32 443.92 278.8 446 C282.28 448.08 285.77 449.85 289.25 451.25 C292.73 452.65 296.24 453.54 299.7 454.4 C303.16 455.26 305.97 455.67 310 456.4 C314.03 457.12 319.27 458.05 323.9 458.75 C328.53 459.45 333.17 460.21 337.8 460.6 C342.43 460.99 347.07 461.07 351.7 461.1 C356.33 461.13 360.98 461.08 365.6 460.8 C370.22 460.52 374.78 459.97 379.4 459.4 C384.02 458.83 388.13 458.27 393.3 457.4 C398.47 456.53 405.82 455.13 410.4 454.2 C414.98 453.27 417.32 452.9 420.8 451.8 C424.28 450.7 427.77 449.17 431.25 447.6 C434.73 446.03 438.57 444.22 441.7 442.4 C444.82 440.58 447.75 438.7 450 436.7 C452.25 434.7 454.07 432.14 455.2 430.4 C456.33 428.66 456.53 426.94 456.8 426.25" fill="none" stroke="#222" stroke-width="0.9" />
<path d="M266.5 436.5 C266.82 437.22 266.35 438.52 268.4 440.8 C270.45 443.08 275.32 447.68 278.8 450.2 C282.28 452.72 285.77 454.33 289.25 455.9 C292.73 457.47 296.24 458.67 299.7 459.6 C303.16 460.53 305.97 460.65 310 461.5 C314.03 462.35 319.27 463.93 323.9 464.7 C328.53 465.47 333.17 465.82 337.8 466.1 C342.43 466.38 347.07 466.35 351.7 466.4 C356.33 466.45 360.98 466.57 365.6 466.4 C370.22 466.23 374.78 465.92 379.4 465.4 C384.02 464.88 388.13 464.18 393.3 463.3 C398.47 462.42 405.82 461.33 410.4 460.1 C414.98 458.87 417.32 457.38 420.8 455.9 C424.28 454.42 427.77 453.07 431.25 451.25 C434.73 449.43 438.57 447.26 441.7 445 C444.82 442.74 447.75 439.95 450 437.7 C452.25 435.45 454.33 432.53 455.2 431.5" fill="none" stroke="#222" stroke-width="0.9" />
<ellipse cx="360.1" cy="374.3" rx="95.7" ry="36.7" fill="none" stroke="#222" stroke-width="1.0" transform="rotate(-1.7 360.1 374.3)"/>
<path d="M274.3 383.5 C274.63 384.58 274.85 388.35 276.3 390 C277.75 391.65 280.5 392.28 283 393.4 C285.5 394.52 287.13 395.27 291.3 396.7 C295.47 398.13 302.85 400.57 308 402 C313.15 403.43 319.83 404.75 322.2 405.3" fill="none" stroke="#222" stroke-width="0.9" />
<path d="M332.2 406.7 C334.33 406.82 340.7 407.27 345 407.4 C349.3 407.53 353.33 407.62 358 407.5 C362.67 407.38 368.5 407.03 373 406.7 C377.5 406.37 381.53 405.92 385 405.5 C388.47 405.08 392.33 404.42 393.8 404.2" fill="none" stroke="#222" stroke-width="0.9" />
<path d="M403.8 402 C405.17 401.53 408.8 400.37 412 399.2 C415.2 398.03 419.17 396.45 423 395 C426.83 393.55 431.38 392.03 435 390.5 C438.62 388.97 442.2 387.3 444.7 385.8 C447.2 384.3 448.58 382.92 450 381.5 C451.42 380.08 452.67 378 453.2 377.3" fill="none" stroke="#222" stroke-width="0.9" />
<path d="M269.9 365 C269.68 366 268.58 368.83 268.6 371 C268.62 373.17 269.05 375.92 270 378 C270.95 380.08 273.58 382.58 274.3 383.5" fill="none" stroke="#222" stroke-width="0.7" />
<path d="M446.8 358.1 C447.75 359.08 451.1 362.02 452.5 364 C453.9 365.98 455.08 367.78 455.2 370 C455.32 372.22 453.53 376.08 453.2 377.3" fill="none" stroke="#222" stroke-width="0.7" />
<path d="M273.6 361.3 C275.17 360.47 279.35 357.87 283 356.3 C286.65 354.73 291.83 353.12 295.5 351.9 C299.17 350.68 301.67 349.93 305 349 C308.33 348.07 313.75 346.75 315.5 346.3" fill="none" stroke="#222" stroke-width="0.8" />
<path d="M396.8 342.5 C399.5 343.02 407.58 344.25 413 345.6 C418.42 346.95 424.3 348.82 429.3 350.6 C434.3 352.38 440.08 355.05 443 356.3 C445.92 357.55 446.17 357.8 446.8 358.1" fill="none" stroke="#222" stroke-width="0.8" />
<line x1="273.6" y1="361.8" x2="319.3" y2="348.5" stroke="#222" stroke-width="0.8" />
<line x1="269.9" y1="365" x2="321.1" y2="351.5" stroke="#222" stroke-width="0.8" />
<line x1="269.9" y1="365" x2="301.1" y2="368.8" stroke="#222" stroke-width="0.8" />
<line x1="274.3" y1="383.5" x2="321.1" y2="358.1" stroke="#222" stroke-width="0.8" />
<line x1="278.6" y1="386.9" x2="325.5" y2="360.6" stroke="#222" stroke-width="0.8" />
<line x1="274.3" y1="383.5" x2="278.6" y2="386.9" stroke="#222" stroke-width="0.8" />
<line x1="321.1" y1="358.1" x2="325.5" y2="360.6" stroke="#222" stroke-width="0.8" />
<path d="M278.6 390 L327.4 380.6 L331.8 381.3" fill="none" stroke="#222" stroke-width="0.8" />
<line x1="327.4" y1="360.6" x2="327.4" y2="380.6" stroke="#222" stroke-width="0.8" />
<path d="M325.5 360.6 C326.58 360.45 329.92 359.77 332 359.7 C334.08 359.63 336.58 359.72 338 360.2 C339.42 360.68 339.87 361.8 340.5 362.6 C341.13 363.4 341.05 364.43 341.8 365 C342.55 365.57 343.55 365.78 345 366 C346.45 366.22 349.58 366.25 350.5 366.3" fill="none" stroke="#222" stroke-width="0.9" />
<path d="M350.5 366.3 C350.83 365.97 351.45 364.83 352.5 364.3 C353.55 363.77 354.83 363.4 356.8 363.1 C358.77 362.8 362.27 362.43 364.3 362.5 C366.33 362.57 367.75 362.98 369 363.5 C370.25 364.02 371.33 365.25 371.8 365.6" fill="none" stroke="#222" stroke-width="0.9" />
<path d="M371.8 365.6 C372.5 365.5 374.75 365.42 376 365 C377.25 364.58 378.33 363.93 379.3 363.1 C380.27 362.27 380.77 360.8 381.8 360 C382.83 359.2 384.05 358.72 385.5 358.3 C386.95 357.88 388.83 357.63 390.5 357.5 C392.17 357.37 394.67 357.5 395.5 357.5" fill="none" stroke="#222" stroke-width="0.9" />
<path d="M340.5 366.3 L330.5 385 L322.2 405.3" fill="none" stroke="#222" stroke-width="0.8" />
<path d="M349.3 366.9 L332.2 406.7" fill="none" stroke="#222" stroke-width="0.8" />
<line x1="324.7" y1="400" x2="333.8" y2="401.7" stroke="#222" stroke-width="0.8" />
<path d="M373 366.9 L383 385 L393.8 404.2" fill="none" stroke="#222" stroke-width="0.8" />
<path d="M379.3 363.8 L393 385 L403.8 402" fill="none" stroke="#222" stroke-width="0.8" />
<line x1="393.8" y1="399.2" x2="401.3" y2="397.5" stroke="#222" stroke-width="0.8" />
<line x1="350.5" y1="366.3" x2="350.5" y2="386.9" stroke="#222" stroke-width="0.8" />
<line x1="371.6" y1="365.6" x2="371.6" y2="386.9" stroke="#222" stroke-width="0.8" />
<path d="M350.5 386.9 C351.25 386.58 353.25 385.43 355 385 C356.75 384.57 359 384.3 361 384.3 C363 384.3 365.23 384.57 367 385 C368.77 385.43 370.83 386.58 371.6 386.9" fill="none" stroke="#222" stroke-width="0.8" />
<line x1="350.5" y1="386.9" x2="333.5" y2="405.3" stroke="#222" stroke-width="0.8" />
<line x1="371.6" y1="386.9" x2="392.8" y2="403.4" stroke="#222" stroke-width="0.8" />
<line x1="393.8" y1="358.1" x2="393.8" y2="378.7" stroke="#222" stroke-width="0.8" />
<path d="M389.8 378.3 L418 381.3 L446.8 385.4" fill="none" stroke="#222" stroke-width="0.8" />
<line x1="393.8" y1="358.1" x2="446.8" y2="383.8" stroke="#222" stroke-width="0.8" />
<line x1="399.9" y1="355" x2="450.5" y2="379.4" stroke="#222" stroke-width="0.8" />
<path d="M446.8 383.8 L450.5 379.4" fill="none" stroke="#222" stroke-width="0.8" />
<path d="M443 378.1 L449.5 381" fill="none" stroke="#222" stroke-width="0.8" />
<line x1="395.5" y1="345" x2="443" y2="355.6" stroke="#222" stroke-width="0.8" />
<line x1="396.8" y1="347.5" x2="445.5" y2="358.1" stroke="#222" stroke-width="0.8" />
<line x1="418" y1="363.8" x2="446.8" y2="358.1" stroke="#222" stroke-width="0.8" />
<path d="M315.5 343.8 C314.88 342.92 315.72 342.05 316.8 341.5 C317.88 340.95 320.13 340.73 322 340.5 C323.87 340.27 325.83 340.18 328 340.1 C330.17 340.02 333.25 339.85 335 340 C336.75 340.15 337.9 340.42 338.5 341 C339.1 341.58 339.18 342.78 338.6 343.5 C338.02 344.22 336.77 344.83 335 345.3 C333.23 345.77 330.42 346.05 328 346.3 C325.58 346.55 322.58 347.22 320.5 346.8 C318.42 346.38 316.12 344.68 315.5 343.8" fill="none" stroke="#222" stroke-width="0.9"  style="stroke-linecap:butt"/>
<path d="M322.4 349.8 C323.13 350.03 325.83 350.55 326.8 351.2 C327.77 351.85 328.33 352.87 328.2 353.7 C328.07 354.53 326.97 355.65 326 356.2 C325.03 356.75 323 356.87 322.4 357" fill="none" stroke="#222" stroke-width="0.9" />
<line x1="322.4" y1="349.8" x2="322.4" y2="357" stroke="#222" stroke-width="0.9" />
<path d="M376.8 338.6 C376.3 339.25 377.38 340.67 378 341.5 C378.62 342.33 378.83 343.12 380.5 343.6 C382.17 344.08 385.92 344.4 388 344.4 C390.08 344.4 391.67 344.03 393 343.6 C394.33 343.17 395.4 342.47 396 341.8 C396.6 341.13 397.1 340.23 396.6 339.6 C396.1 338.97 394.43 338.35 393 338 C391.57 337.65 390 337.57 388 337.5 C386 337.43 382.87 337.42 381 337.6 C379.13 337.78 377.3 337.95 376.8 338.6" fill="none" stroke="#222" stroke-width="0.9"  style="stroke-linecap:butt"/>
<path d="M396.8 345.6 C396 345.83 393.05 346.33 392 347 C390.95 347.67 390.42 348.57 390.5 349.6 C390.58 350.63 391.45 352.3 392.5 353.2 C393.55 354.1 396.08 354.7 396.8 355" fill="none" stroke="#222" stroke-width="0.9" />
<line x1="396.8" y1="345.6" x2="396.8" y2="355" stroke="#222" stroke-width="0.9" />
<path d="M338.5 341 C339.08 340.73 340.42 339.78 342 339.4 C343.58 339.02 346.17 338.85 348 338.7 C349.83 338.55 352.17 338.53 353 338.5" fill="none" stroke="#222" stroke-width="1.2" />
<path d="M365 338.3 C366 338.28 369.03 338.15 371 338.2 C372.97 338.25 375.83 338.53 376.8 338.6" fill="none" stroke="#222" stroke-width="1.2" />
<ellipse cx="346.5" cy="348.1" rx="4.3" ry="1.6" fill="none" stroke="#222" stroke-width="0.9" />
<ellipse cx="373.6" cy="346" rx="4.3" ry="1.6" fill="none" stroke="#222" stroke-width="0.9" />
<ellipse cx="344.9" cy="358.1" rx="4.3" ry="1.6" fill="none" stroke="#222" stroke-width="0.9" />
<ellipse cx="371.8" cy="355.6" rx="4.3" ry="1.6" fill="none" stroke="#222" stroke-width="0.9" />
</g>
<g id="part_asm">
<path d="M-2 245.7 C5 245.5 25.83 244.83 40 244.5 C54.17 244.17 68.83 243.93 83 243.7 C97.17 243.47 112.17 243.27 125 243.1 C137.83 242.93 150 242.73 160 242.7 C170 242.67 178.67 242.73 185 242.9 C191.33 243.07 193.83 243.28 198 243.7 C202.17 244.12 205.5 244.62 210 245.4 C214.5 246.18 219.5 247.37 225 248.4 C230.5 249.43 237.58 250.8 243 251.6 C248.42 252.4 254.17 252.55 257.5 253.2 C260.83 253.85 261.02 254.47 263 255.5 C264.98 256.53 268.33 258.75 269.4 259.4 L266.3 279.8 C265.03 279.97 261.08 280.22 258.7 280.8 C256.32 281.38 253.87 282.38 252 283.3 C250.13 284.22 250.17 284.25 247.5 286.3 C244.83 288.35 239.75 292.8 236 295.6 C232.25 298.4 229.33 300.78 225 303.1 C220.67 305.42 216.25 307.43 210 309.5 C203.75 311.57 195.67 314.12 187.5 315.5 C179.33 316.88 167.25 317.48 161 317.8 C154.75 318.12 158.08 318.03 150 317.4 C141.92 316.77 125 315.25 112.5 314 C100 312.75 87.5 311.27 75 309.9 C62.5 308.53 48.33 306.98 37.5 305.8 C26.67 304.62 16.58 303.58 10 302.8 C3.42 302.02 0 301.38 -2 301.1Z" fill="#fff" stroke="none"/>
<path d="M-2 245.7 C5 245.5 25.83 244.83 40 244.5 C54.17 244.17 68.83 243.93 83 243.7 C97.17 243.47 112.17 243.27 125 243.1 C137.83 242.93 150 242.73 160 242.7 C170 242.67 178.67 242.73 185 242.9 C191.33 243.07 193.83 243.28 198 243.7 C202.17 244.12 205.5 244.62 210 245.4 C214.5 246.18 219.5 247.37 225 248.4 C230.5 249.43 237.58 250.8 243 251.6 C248.42 252.4 254.17 252.55 257.5 253.2 C260.83 253.85 261.02 254.47 263 255.5 C264.98 256.53 268.33 258.75 269.4 259.4" fill="none" stroke="#222" stroke-width="0.8" />
<path d="M266.3 279.8 C265.03 279.97 261.08 280.22 258.7 280.8 C256.32 281.38 253.87 282.38 252 283.3 C250.13 284.22 250.17 284.25 247.5 286.3 C244.83 288.35 239.75 292.8 236 295.6 C232.25 298.4 229.33 300.78 225 303.1 C220.67 305.42 216.25 307.43 210 309.5 C203.75 311.57 195.67 314.12 187.5 315.5 C179.33 316.88 167.25 317.48 161 317.8 C154.75 318.12 158.08 318.03 150 317.4 C141.92 316.77 125 315.25 112.5 314 C100 312.75 87.5 311.27 75 309.9 C62.5 308.53 48.33 306.98 37.5 305.8 C26.67 304.62 16.58 303.58 10 302.8 C3.42 302.02 0 301.38 -2 301.1" fill="none" stroke="#222" stroke-width="0.8" />
<path d="M18.8 245.1 C18.05 250.08 15.75 265.38 14.3 275 C12.85 284.62 10.8 298.17 10.1 302.8" fill="none" stroke="#222" stroke-width="0.8" />
<path d="M243 251.8 C242.3 255.67 239.93 267.73 238.8 275 C237.67 282.27 236.63 292 236.2 295.4" fill="none" stroke="#222" stroke-width="0.8" />
<line x1="293.6" y1="244" x2="293.6" y2="331.5" stroke="#222" stroke-width="0.6" />
<line x1="421.2" y1="240" x2="421.2" y2="327.5" stroke="#222" stroke-width="0.6" />
<path d="M269.4 259.4 C272 259.38 280.4 259.23 285 259.3 C289.6 259.37 294 259.55 297 259.8 C300 260.05 301.17 260.23 303 260.8 C304.83 261.37 306.62 262.23 308 263.2 C309.38 264.17 310.65 265.53 311.3 266.6 C311.95 267.67 312.03 268.57 311.9 269.6 C311.77 270.63 311.32 271.68 310.5 272.8 C309.68 273.92 308.58 275.27 307 276.3 C305.42 277.33 303.42 278.28 301 279 C298.58 279.72 296 280.38 292.5 280.6 C289 280.82 284.37 280.43 280 280.3 C275.63 280.17 268.58 279.88 266.3 279.8 L266.2 268.8 Z" fill="#fff" stroke="#222" stroke-width="0.9"/>
<path d="M266.3 269 C268.58 269.1 275.83 269.43 280 269.6 C284.17 269.77 288.3 270.02 291.3 270 C294.3 269.98 296.13 269.87 298 269.5 C299.87 269.13 301.3 268.5 302.5 267.8 C303.7 267.1 304.65 266.17 305.2 265.3 C305.75 264.43 305.7 263.05 305.8 262.6" fill="none" stroke="#222" stroke-width="0.8" />
<path d="M266.3 276.3 C268.58 276.4 275.83 276.73 280 276.9 C284.17 277.07 288.3 277.33 291.3 277.3 C294.3 277.27 295.8 277.12 298 276.7 C300.2 276.28 302.58 275.58 304.5 274.8 C306.42 274.02 308.32 272.9 309.5 272 C310.68 271.1 311.25 269.83 311.6 269.4" fill="none" stroke="#222" stroke-width="0.8" />
<line x1="291.3" y1="270" x2="291.3" y2="280.6" stroke="#222" stroke-width="0.8" />
<ellipse cx="293.5" cy="265" rx="4.4" ry="1.8" fill="none" stroke="#222" stroke-width="0.9" />
<path d="M446.3 256.3 C448.25 256.78 454.72 258.38 458 259.2 C461.28 260.02 463.58 260.65 466 261.2 C468.42 261.75 469.33 262.23 472.5 262.5 C475.67 262.77 480.42 262.72 485 262.8 C489.58 262.88 492 262.85 500 263 C508 263.15 522.17 263.45 533 263.7 C543.83 263.95 553.83 264.13 565 264.5 C576.17 264.87 590.5 265.53 600 265.9 C609.5 266.27 611.72 266.43 622 266.7 C632.28 266.97 650 267.15 661.7 267.5 C673.4 267.85 682.15 268.35 692.2 268.8 C702.25 269.25 717.03 269.97 722 270.2 L722 276.4 C717.03 276.45 702.25 276.58 692.2 276.7 C682.15 276.82 673.4 276.95 661.7 277.1 C650 277.25 635.62 277.47 622 277.6 C608.38 277.73 594.83 277.83 580 277.9 C565.17 277.97 546.33 278.02 533 278 C519.67 277.98 510.5 277.9 500 277.8 C489.5 277.7 479.37 277.62 470 277.4 C460.63 277.18 448.17 276.65 443.8 276.5Z" fill="#fff" stroke="none"/>
<path d="M446.3 256.3 C448.25 256.78 454.72 258.38 458 259.2 C461.28 260.02 463.58 260.65 466 261.2 C468.42 261.75 469.33 262.23 472.5 262.5 C475.67 262.77 480.42 262.72 485 262.8 C489.58 262.88 492 262.85 500 263 C508 263.15 522.17 263.45 533 263.7 C543.83 263.95 553.83 264.13 565 264.5 C576.17 264.87 590.5 265.53 600 265.9 C609.5 266.27 611.72 266.43 622 266.7 C632.28 266.97 650 267.15 661.7 267.5 C673.4 267.85 682.15 268.35 692.2 268.8 C702.25 269.25 717.03 269.97 722 270.2" fill="none" stroke="#222" stroke-width="0.8" />
<path d="M722 276.4 C717.03 276.45 702.25 276.58 692.2 276.7 C682.15 276.82 673.4 276.95 661.7 277.1 C650 277.25 635.62 277.47 622 277.6 C608.38 277.73 594.83 277.83 580 277.9 C565.17 277.97 546.33 278.02 533 278 C519.67 277.98 510.5 277.9 500 277.8 C489.5 277.7 479.37 277.62 470 277.4 C460.63 277.18 448.17 276.65 443.8 276.5" fill="none" stroke="#222" stroke-width="0.8" />
<path d="M472.5 262.5 C472.02 263.75 469.93 267.52 469.6 270 C469.27 272.48 470.35 276.17 470.5 277.4" fill="none" stroke="#222" stroke-width="0.8" />
<path d="M692.2 276.7 C692.13 276.17 691.63 274.48 691.8 273.5 C691.97 272.52 692.5 271.5 693.2 270.8 C693.9 270.1 694.87 269.62 696 269.3 C697.13 268.98 699.33 268.97 700 268.9" fill="none" stroke="#222" stroke-width="0.8" />
<ellipse cx="702.3" cy="271.3" rx="1.7" ry="2.1" fill="none" stroke="#222" stroke-width="0.7" transform="rotate(-35 702.3 271.3)"/>
<path d="M446.3 256.3 C444.22 256.18 438.18 255.62 433.8 255.6 C429.42 255.58 424.17 255.88 420 256.2 C415.83 256.52 411.37 256.98 408.8 257.5 C406.23 258.02 405.68 258.47 404.6 259.3 C403.52 260.13 402.75 261.33 402.3 262.5 C401.85 263.67 401.75 265.12 401.9 266.3 C402.05 267.48 402.43 268.57 403.2 269.6 C403.97 270.63 405.15 271.7 406.5 272.5 C407.85 273.3 409.47 273.93 411.3 274.4 C413.13 274.87 414.38 275.05 417.5 275.3 C420.62 275.55 425.62 275.7 430 275.9 C434.38 276.1 441.5 276.4 443.8 276.5 L442.9 266 Z" fill="#fff" stroke="#222" stroke-width="0.9"/>
<path d="M407.3 258.6 C407.3 258.93 407.05 259.85 407.3 260.6 C407.55 261.35 407.93 262.47 408.8 263.1 C409.67 263.73 411.05 264.08 412.5 264.4 C413.95 264.72 414.58 264.85 417.5 265 C420.42 265.15 425.78 265.2 430 265.3 C434.22 265.4 440.67 265.55 442.8 265.6" fill="none" stroke="#222" stroke-width="0.8" />
<path d="M402.3 265.2 C402.65 265.7 403.53 267.3 404.4 268.2 C405.27 269.1 406.23 269.98 407.5 270.6 C408.77 271.22 410.33 271.58 412 271.9 C413.67 272.22 414.5 272.32 417.5 272.5 C420.5 272.68 425.83 272.83 430 273 C434.17 273.17 440.42 273.42 442.5 273.5" fill="none" stroke="#222" stroke-width="0.8" />
<line x1="417.5" y1="265" x2="417.5" y2="275.3" stroke="#222" stroke-width="0.8" />
<ellipse cx="420" cy="260" rx="4.4" ry="1.7" fill="none" stroke="#222" stroke-width="0.9" />
<ellipse cx="293.7" cy="288.9" rx="14.6" ry="5" fill="#fff" stroke="#222" stroke-width="1.0" /><ellipse cx="293.7" cy="288" rx="14.6" ry="5" fill="#fff" stroke="#222" stroke-width="1.05" /><ellipse cx="293.7" cy="288.2" rx="4.2" ry="1.6" fill="none" stroke="#222" stroke-width="1.1" /><path d="M290.2 288.9 A3.5 1.1 0 0 1 297.2 288.9" fill="none" stroke="#222" stroke-width="0.6"/>
<ellipse cx="420.6" cy="284" rx="14.4" ry="5" fill="#fff" stroke="#222" stroke-width="1.0" /><ellipse cx="420.6" cy="283.1" rx="14.4" ry="5" fill="#fff" stroke="#222" stroke-width="1.05" /><ellipse cx="420.6" cy="283.3" rx="4.2" ry="1.6" fill="none" stroke="#222" stroke-width="1.1" /><path d="M417.1 284 A3.5 1.1 0 0 1 424.1 284" fill="none" stroke="#222" stroke-width="0.6"/>
<ellipse cx="293.1" cy="257.4" rx="14.5" ry="4.8" fill="#fff" stroke="#222" stroke-width="1.0" /><ellipse cx="293.1" cy="256.5" rx="14.5" ry="4.8" fill="#fff" stroke="#222" stroke-width="1.05" /><ellipse cx="293.1" cy="256.7" rx="4.2" ry="1.6" fill="none" stroke="#222" stroke-width="1.1" /><path d="M289.6 257.4 A3.5 1.1 0 0 1 296.6 257.4" fill="none" stroke="#222" stroke-width="0.6"/>
<ellipse cx="420" cy="252.7" rx="14.7" ry="5" fill="#fff" stroke="#222" stroke-width="1.0" /><ellipse cx="420" cy="251.8" rx="14.7" ry="5" fill="#fff" stroke="#222" stroke-width="1.05" /><ellipse cx="420" cy="252" rx="4.2" ry="1.6" fill="none" stroke="#222" stroke-width="1.1" /><path d="M416.5 252.7 A3.5 1.1 0 0 1 423.5 252.7" fill="none" stroke="#222" stroke-width="0.6"/>
<line x1="293.4" y1="258.5" x2="293.4" y2="263.5" stroke="#222" stroke-width="0.5" />
<line x1="420.4" y1="254" x2="420.4" y2="258.5" stroke="#222" stroke-width="0.5" />
</g>
<g id="part_asm2">
<path d="M274.3 305 C274.5 304.55 274.83 303.13 275.5 302.3 C276.17 301.47 276.72 300.78 278.3 300 C279.88 299.22 282.35 298.17 285 297.6 C287.65 297.03 291.37 296.67 294.2 296.6 C297.03 296.53 299.37 297.07 302 297.2 C304.63 297.33 307.5 297.57 310 297.4 C312.5 297.23 314.5 296.73 317 296.2 C319.5 295.67 322.33 294.78 325 294.2 C327.67 293.62 330.22 293.12 333 292.7 C335.78 292.28 337.2 292.05 341.7 291.7 C346.2 291.35 354.73 290.83 360 290.6 C365.27 290.37 368.58 290.13 373.3 290.3 C378.02 290.47 384.35 291.17 388.3 291.6 C392.25 292.03 394.5 292.62 397 292.9 C399.5 293.18 401.3 293.35 403.3 293.3 C405.3 293.25 407.05 292.92 409 292.6 C410.95 292.28 412.92 291.65 415 291.4 C417.08 291.15 419.28 291.03 421.5 291.1 C423.72 291.17 426.22 291.45 428.3 291.8 C430.38 292.15 432.33 292.53 434 293.2 C435.67 293.87 437.23 294.83 438.3 295.8 C439.37 296.77 439.9 297.88 440.4 299 C440.9 300.12 441.15 301.92 441.3 302.5 L441.3 306 C441.03 306.7 440.5 309 439.7 310.2 C438.9 311.4 437.83 312.4 436.5 313.2 C435.17 314 433.62 314.48 431.7 315 C429.78 315.52 427.23 316.02 425 316.3 C422.77 316.58 420.8 316.65 418.3 316.7 C415.8 316.75 412.77 316.57 410 316.6 C407.23 316.63 404.2 316.62 401.7 316.9 C399.2 317.18 397.23 317.75 395 318.3 C392.77 318.85 390.63 319.62 388.3 320.2 C385.97 320.78 383.22 321.4 381 321.8 C378.78 322.2 378.5 322.37 375 322.6 C371.5 322.83 365 323.07 360 323.2 C355 323.33 348.67 323.4 345 323.4 C341.33 323.4 340.33 323.5 338 323.2 C335.67 322.9 333.17 322.1 331 321.6 C328.83 321.1 327.33 320.48 325 320.2 C322.67 319.92 319.5 319.92 317 319.9 C314.5 319.88 313.17 319.95 310 320.1 C306.83 320.25 301.5 320.77 298 320.8 C294.5 320.83 291.72 320.67 289 320.3 C286.28 319.93 283.62 319.35 281.7 318.6 C279.78 317.85 278.62 316.82 277.5 315.8 C276.38 314.78 275.53 313.8 275 312.5 C274.47 311.2 274.42 308.75 274.3 308Z" fill="#fff" stroke="#222" stroke-width="0.9"/>
<path d="M274.3 305.5 C274.58 305.9 275.05 307.18 276 307.9 C276.95 308.62 278.5 309.32 280 309.8 C281.5 310.28 282.17 310.57 285 310.8 C287.83 311.03 292.83 311.18 297 311.2 C301.17 311.22 306.5 311.05 310 310.9 C313.5 310.75 315.5 310.38 318 310.3 C320.5 310.22 323 310.2 325 310.4 C327 310.6 328.33 311.13 330 311.5 C331.67 311.87 332.5 312.33 335 312.6 C337.5 312.87 340.83 313.07 345 313.1 C349.17 313.13 355 312.97 360 312.8 C365 312.63 371.33 312.37 375 312.1 C378.67 311.83 379.78 311.55 382 311.2 C384.22 310.85 386.13 310.45 388.3 310 C390.47 309.55 392.77 308.93 395 308.5 C397.23 308.07 399.37 307.68 401.7 307.4 C404.03 307.12 406.5 306.92 409 306.8 C411.5 306.68 414.2 306.68 416.7 306.7 C419.2 306.72 421.5 306.93 424 306.9 C426.5 306.87 429.53 306.78 431.7 306.5 C433.87 306.22 435.57 305.78 437 305.2 C438.43 304.62 439.58 303.7 440.3 303 C441.02 302.3 441.13 301.33 441.3 301" fill="none" stroke="#222" stroke-width="0.9" />
<path d="M441.3 306 C441.03 306.7 440.5 309 439.7 310.2 C438.9 311.4 437.83 312.4 436.5 313.2 C435.17 314 433.62 314.48 431.7 315 C429.78 315.52 427.23 316.02 425 316.3 C422.77 316.58 420.8 316.65 418.3 316.7 C415.8 316.75 412.77 316.57 410 316.6 C407.23 316.63 404.2 316.62 401.7 316.9 C399.2 317.18 397.23 317.75 395 318.3 C392.77 318.85 390.63 319.62 388.3 320.2 C385.97 320.78 383.22 321.4 381 321.8 C378.78 322.2 378.5 322.37 375 322.6 C371.5 322.83 365 323.07 360 323.2 C355 323.33 348.67 323.4 345 323.4 C341.33 323.4 340.33 323.5 338 323.2 C335.67 322.9 333.17 322.1 331 321.6 C328.83 321.1 327.33 320.48 325 320.2 C322.67 319.92 319.5 319.92 317 319.9 C314.5 319.88 313.17 319.95 310 320.1 C306.83 320.25 301.5 320.77 298 320.8 C294.5 320.83 291.72 320.67 289 320.3 C286.28 319.93 283.62 319.35 281.7 318.6 C279.78 317.85 278.62 316.82 277.5 315.8 C276.38 314.78 275.53 313.8 275 312.5 C274.47 311.2 274.42 308.75 274.3 308" fill="none" stroke="#222" stroke-width="1.3" />
<path d="M436.5 311.6 C435.7 311.9 433.62 312.88 431.7 313.4 C429.78 313.92 427.23 314.42 425 314.7 C422.77 314.98 420.8 315.05 418.3 315.1 C415.8 315.15 412.77 314.97 410 315 C407.23 315.03 404.2 315.02 401.7 315.3 C399.2 315.58 397.23 316.15 395 316.7 C392.77 317.25 390.63 318.02 388.3 318.6 C385.97 319.18 383.22 319.8 381 320.2 C378.78 320.6 378.5 320.77 375 321 C371.5 321.23 365 321.47 360 321.6 C355 321.73 348.67 321.8 345 321.8 C341.33 321.8 340.33 321.9 338 321.6 C335.67 321.3 333.17 320.5 331 320 C328.83 319.5 327.33 318.88 325 318.6 C322.67 318.32 319.5 318.32 317 318.3 C314.5 318.28 313.17 318.35 310 318.5 C306.83 318.65 301.5 319.17 298 319.2 C294.5 319.23 291.72 319.07 289 318.7 C286.28 318.33 283.62 317.75 281.7 317 C279.78 316.25 278.2 314.67 277.5 314.2" fill="none" stroke="#222" stroke-width="0.5" />
<line x1="299" y1="311.2" x2="299" y2="320.6" stroke="#222" stroke-width="0.7" />
<line x1="336.7" y1="312.8" x2="336.7" y2="323" stroke="#222" stroke-width="0.7" />
<line x1="374.2" y1="312.2" x2="374.2" y2="322.6" stroke="#222" stroke-width="0.7" />
<line x1="381" y1="311.3" x2="381" y2="321.7" stroke="#222" stroke-width="0.7" />
<line x1="419" y1="306.8" x2="419" y2="316.6" stroke="#222" stroke-width="0.7" />
<ellipse cx="293.9" cy="303.3" rx="16.4" ry="6.8" fill="none" stroke="#222" stroke-width="0.6" />
<ellipse cx="293.9" cy="303.3" rx="14.8" ry="5.8" fill="#fff" stroke="#222" stroke-width="1.6" />
<ellipse cx="293.9" cy="303.9" rx="12.6" ry="4.5" fill="none" stroke="#222" stroke-width="0.6" />
<ellipse cx="294.2" cy="303.8" rx="4.2" ry="1.8" fill="none" stroke="#222" stroke-width="0.9" />
<ellipse cx="420.8" cy="299.6" rx="16.4" ry="6.8" fill="none" stroke="#222" stroke-width="0.6" />
<ellipse cx="420.8" cy="299.6" rx="14.8" ry="5.8" fill="#fff" stroke="#222" stroke-width="1.6" />
<ellipse cx="420.8" cy="300.2" rx="12.6" ry="4.5" fill="none" stroke="#222" stroke-width="0.6" />
<ellipse cx="421.1" cy="300.1" rx="4.2" ry="1.8" fill="none" stroke="#222" stroke-width="0.9" />
<line x1="294.7" y1="303.8" x2="294.7" y2="331.5" stroke="#222" stroke-width="0.6" />
<line x1="421.2" y1="300.2" x2="421.2" y2="327.5" stroke="#222" stroke-width="0.6" />
<ellipse cx="326.7" cy="302.5" rx="8.4" ry="3.6" fill="#fff" stroke="#222" stroke-width="1.0" />
<path d="M318.8 303.7 A8.4 3.6 0 0 1 334.6 303.7" fill="none" stroke="#222" stroke-width="0.5"/>
<ellipse cx="342.5" cy="296.3" rx="8.4" ry="3.6" fill="#fff" stroke="#222" stroke-width="1.0" />
<path d="M334.6 297.5 A8.4 3.6 0 0 1 350.4 297.5" fill="none" stroke="#222" stroke-width="0.5"/>
<ellipse cx="357.6" cy="301.3" rx="8.4" ry="3.6" fill="#fff" stroke="#222" stroke-width="1.0" />
<path d="M349.7 302.5 A8.4 3.6 0 0 1 365.5 302.5" fill="none" stroke="#222" stroke-width="0.5"/>
<ellipse cx="343.3" cy="306.7" rx="8.4" ry="3.6" fill="#fff" stroke="#222" stroke-width="1.0" />
<path d="M335.4 307.9 A8.4 3.6 0 0 1 351.2 307.9" fill="none" stroke="#222" stroke-width="0.5"/>
<ellipse cx="372.5" cy="295" rx="8.4" ry="3.6" fill="#fff" stroke="#222" stroke-width="1.0" />
<path d="M364.6 296.2 A8.4 3.6 0 0 1 380.4 296.2" fill="none" stroke="#222" stroke-width="0.5"/>
<ellipse cx="373.3" cy="305.8" rx="8.4" ry="3.6" fill="#fff" stroke="#222" stroke-width="1.0" />
<path d="M365.4 307 A8.4 3.6 0 0 1 381.2 307" fill="none" stroke="#222" stroke-width="0.5"/>
<ellipse cx="389.2" cy="300" rx="8.4" ry="3.6" fill="#fff" stroke="#222" stroke-width="1.0" />
<path d="M381.3 301.2 A8.4 3.6 0 0 1 397.1 301.2" fill="none" stroke="#222" stroke-width="0.5"/>
<path d="M353.1 336.8 L353.1 352.3 A5.95 2.0 0 0 0 365 352.3 L365 336.8" fill="#fff" stroke="#222" stroke-width="0.9"/>
<ellipse cx="361.9" cy="344.7" rx="0.8" ry="0.8" fill="#222" stroke="#222" stroke-width="0" />
<path d="M346.9 331.8 L346.9 333.1 A11.5 4.2 0 0 0 369.9 333.1 L369.9 331.8 A11.5 4.2 0 0 0 346.9 331.8Z" fill="#fff" stroke="#222" stroke-width="0.9"/><ellipse cx="358.4" cy="331.8" rx="11.5" ry="4.2" fill="#fff" stroke="#222" stroke-width="0.9" />
<path d="M348.2 331.6 A10.2 3.5 0 0 0 368.6 331.6" fill="none" stroke="#222" stroke-width="0.7"/>
<path d="M350.1 322.8 L350.1 331.6 A8.25 2.9 0 0 0 366.6 331.6 L366.6 322.8" fill="#fff" stroke="#222" stroke-width="0.8"/>
<path d="M350.1 331.6 A8.25 2.9 0 0 0 366.6 331.6" fill="none" stroke="#222" stroke-width="1.4"/>
<path d="M352.5 332.6 L359 329.8 M359 329.8 l-2.2 -0.2 M359 329.8 l-1.3 1.5" stroke="#222" stroke-width="0.8" fill="none"/>
<path d="M303 231.8 C304.17 232.02 307.83 232.98 310 233.1 C312.17 233.22 314.33 232.8 316 232.5 C317.67 232.2 318.08 232.03 320 231.3 C321.92 230.57 325 229.15 327.5 228.1 C330 227.05 332.08 225.65 335 225 C337.92 224.35 341.67 224.38 345 224.2 C348.33 224.02 352.08 224.02 355 223.9 C357.92 223.78 359.17 223.52 362.5 223.5 C365.83 223.48 371.67 223.35 375 223.8 C378.33 224.25 380.5 225.58 382.5 226.2 C384.5 226.82 385.53 227.18 387 227.5 C388.47 227.82 388.82 227.93 391.3 228.1 C393.78 228.27 398.95 228.25 401.9 228.5 C404.85 228.75 407.82 229.42 409 229.6 L419 245.2 C417.17 245.2 411.17 245.12 408 245.2 C404.83 245.28 402.5 245.47 400 245.7 C397.5 245.93 395.08 246.27 393 246.6 C390.92 246.93 389.67 247.13 387.5 247.7 C385.33 248.27 382.5 249.37 380 250 C377.5 250.63 376.67 251.2 372.5 251.5 C368.33 251.8 360 251.73 355 251.8 C350 251.87 345.83 252 342.5 251.9 C339.17 251.8 337.5 251.52 335 251.2 C332.5 250.88 330.83 250.35 327.5 250 C324.17 249.65 318.75 249.2 315 249.1 C311.25 249 308.02 249.27 305 249.4 C301.98 249.53 298.25 249.82 296.9 249.9Z" fill="#fff" stroke="#222" stroke-width="0.9"/>
<path d="M419 245.2 C417.17 245.2 411.17 245.12 408 245.2 C404.83 245.28 402.5 245.47 400 245.7 C397.5 245.93 395.08 246.27 393 246.6 C390.92 246.93 389.67 247.13 387.5 247.7 C385.33 248.27 382.5 249.37 380 250 C377.5 250.63 376.67 251.2 372.5 251.5 C368.33 251.8 360 251.73 355 251.8 C350 251.87 345.83 252 342.5 251.9 C339.17 251.8 337.5 251.52 335 251.2 C332.5 250.88 330.83 250.35 327.5 250 C324.17 249.65 318.75 249.2 315 249.1 C311.25 249 308.02 249.27 305 249.4 C301.98 249.53 298.25 249.82 296.9 249.9" fill="none" stroke="#222" stroke-width="1.3" />
<path d="M300 247.5 C301 247.12 303.83 246.03 306 245.2 C308.17 244.37 310.67 243.17 313 242.5 C315.33 241.83 317.67 241.32 320 241.2 C322.33 241.08 325.08 241.3 327 241.8 C328.92 242.3 330.17 243.27 331.5 244.2 C332.83 245.13 333.83 247.03 335 247.4 C336.17 247.77 337.25 246.7 338.5 246.4 C339.75 246.1 339.75 245.78 342.5 245.6 C345.25 245.42 350 245.37 355 245.3 C360 245.23 369 245.28 372.5 245.2 C376 245.12 374.95 245.05 376 244.8 C377.05 244.55 377.97 244.12 378.8 243.7 C379.63 243.28 380.17 242.83 381 242.3 C381.83 241.77 382.08 241.27 383.8 240.5 C385.52 239.73 389.1 238.28 391.3 237.7 C393.5 237.12 395.13 237.13 397 237 C398.87 236.87 400.53 236.52 402.5 236.9 C404.47 237.28 406.3 238.37 408.8 239.3 C411.3 240.23 416.05 241.97 417.5 242.5" fill="none" stroke="#222" stroke-width="0.9" />
<line x1="342.5" y1="245.6" x2="342.5" y2="251.9" stroke="#222" stroke-width="0.7" />
<line x1="372.5" y1="245.2" x2="372.5" y2="251.5" stroke="#222" stroke-width="0.7" />
<path d="M296.7 247.7 C298.08 247.6 302.45 247.23 305 247.1 C307.55 246.97 309.5 246.85 312 246.9 C314.5 246.95 317.33 247.12 320 247.4 C322.67 247.68 325.5 248.17 328 248.6 C330.5 249.03 333.83 249.77 335 250" fill="none" stroke="#222" stroke-width="0.8" />
<path d="M379.2 248 C381.13 247.65 386.78 246.52 390.8 245.9 C394.82 245.28 398.98 244.72 403.3 244.3 C407.62 243.88 414.47 243.55 416.7 243.4" fill="none" stroke="#222" stroke-width="0.8" />
<path d="M379.5 243 C379.92 243.2 381.08 244.4 382 244.2 C382.92 244 384.5 242.2 385 241.8" fill="none" stroke="#222" stroke-width="0.6" />
<path d="M302 243.6 C303 243.17 305.75 241.65 308 241 C310.25 240.35 312.83 239.88 315.5 239.7 C318.17 239.52 321.42 239.62 324 239.9 C326.58 240.18 329.13 240.55 331 241.4 C332.87 242.25 334.5 244.4 335.2 245" fill="none" stroke="#333" stroke-width="0.55" />
<path d="M301.58 244.08 C302.65 243.71 305.67 242.4 308 241.85 C310.33 241.3 312.92 240.91 315.58 240.78 C318.25 240.65 321.43 240.78 324 241.07 C326.57 241.35 329.11 241.72 331 242.5 C332.89 243.28 334.61 245.22 335.33 245.77" fill="none" stroke="#333" stroke-width="0.45" />
<path d="M301.17 244.57 C302.31 244.26 305.58 243.15 308 242.7 C310.42 242.25 313 241.94 315.67 241.87 C318.33 241.79 321.44 241.94 324 242.23 C326.56 242.52 329.09 242.88 331 243.6 C332.91 244.32 334.72 246.04 335.47 246.53" fill="none" stroke="#333" stroke-width="0.45" />
<path d="M300.75 245.05 C301.96 244.8 305.5 243.9 308 243.55 C310.5 243.2 313.08 242.97 315.75 242.95 C318.42 242.92 321.46 243.11 324 243.4 C326.54 243.69 329.07 244.05 331 244.7 C332.93 245.35 334.83 246.87 335.6 247.3" fill="none" stroke="#333" stroke-width="0.45" />
<path d="M300.33 245.53 C301.61 245.34 305.42 244.65 308 244.4 C310.58 244.15 313.17 244.01 315.83 244.03 C318.5 244.06 321.47 244.27 324 244.57 C326.53 244.86 329.04 245.22 331 245.8 C332.96 246.38 334.94 247.69 335.73 248.07" fill="none" stroke="#333" stroke-width="0.45" />
<path d="M299.92 246.02 C301.26 245.89 305.33 245.4 308 245.25 C310.67 245.1 313.25 245.04 315.92 245.12 C318.58 245.2 321.49 245.44 324 245.73 C326.51 246.03 329.02 246.38 331 246.9 C332.98 247.42 335.06 248.51 335.87 248.83" fill="none" stroke="#333" stroke-width="0.45" />
<path d="M299.5 246.5 C300.92 246.43 305.25 246.15 308 246.1 C310.75 246.05 313.33 246.07 316 246.2 C318.67 246.33 321.5 246.6 324 246.9 C326.5 247.2 329 247.55 331 248 C333 248.45 335.17 249.33 336 249.6" fill="none" stroke="#333" stroke-width="0.55" />
<path d="M382.4 243 C383 242.63 384.57 241.38 386 240.8 C387.43 240.22 389 239.85 391 239.5 C393 239.15 395.67 238.83 398 238.7 C400.33 238.57 402.67 238.45 405 238.7 C407.33 238.95 410.08 239.65 412 240.2 C413.92 240.75 415.75 241.7 416.5 242" fill="none" stroke="#333" stroke-width="0.55" />
<path d="M382.25 243.63 C382.88 243.3 384.54 242.19 386 241.65 C387.46 241.11 389 240.76 391 240.42 C393 240.08 395.67 239.77 398 239.62 C400.33 239.47 402.67 239.33 405 239.52 C407.33 239.7 410.06 240.27 412 240.72 C413.94 241.16 415.89 241.95 416.67 242.2" fill="none" stroke="#333" stroke-width="0.45" />
<path d="M382.1 244.27 C382.75 243.97 384.52 242.99 386 242.5 C387.48 242.01 389 241.66 391 241.33 C393 241.01 395.67 240.7 398 240.53 C400.33 240.37 402.67 240.22 405 240.33 C407.33 240.45 410.03 240.89 412 241.23 C413.97 241.58 416.03 242.21 416.83 242.4" fill="none" stroke="#333" stroke-width="0.45" />
<path d="M381.95 244.9 C382.62 244.64 384.49 243.79 386 243.35 C387.51 242.91 389 242.57 391 242.25 C393 241.93 395.67 241.63 398 241.45 C400.33 241.27 402.67 241.1 405 241.15 C407.33 241.2 410 241.51 412 241.75 C414 241.99 416.17 242.46 417 242.6" fill="none" stroke="#333" stroke-width="0.45" />
<path d="M381.8 245.53 C382.5 245.31 384.47 244.59 386 244.2 C387.53 243.81 389 243.47 391 243.17 C393 242.86 395.67 242.57 398 242.37 C400.33 242.17 402.67 241.98 405 241.97 C407.33 241.95 409.97 242.13 412 242.27 C414.03 242.41 416.31 242.71 417.17 242.8" fill="none" stroke="#333" stroke-width="0.45" />
<path d="M381.65 246.17 C382.38 245.98 384.44 245.4 386 245.05 C387.56 244.7 389 244.38 391 244.08 C393 243.79 395.67 243.5 398 243.28 C400.33 243.07 402.67 242.87 405 242.78 C407.33 242.7 409.94 242.75 412 242.78 C414.06 242.82 416.44 242.96 417.33 243" fill="none" stroke="#333" stroke-width="0.45" />
<path d="M381.5 246.8 C382.25 246.65 384.42 246.2 386 245.9 C387.58 245.6 389 245.28 391 245 C393 244.72 395.67 244.43 398 244.2 C400.33 243.97 402.67 243.75 405 243.6 C407.33 243.45 409.92 243.37 412 243.3 C414.08 243.23 416.58 243.22 417.5 243.2" fill="none" stroke="#333" stroke-width="0.55" />
<ellipse cx="340.6" cy="229.4" rx="5.4" ry="2.3" fill="#fff" stroke="#222" stroke-width="0.9" />
<ellipse cx="370" cy="228.1" rx="5.4" ry="2.3" fill="#fff" stroke="#222" stroke-width="0.9" />
<ellipse cx="325" cy="235.6" rx="5.4" ry="2.3" fill="#fff" stroke="#222" stroke-width="0.9" />
<ellipse cx="355" cy="234.4" rx="5.4" ry="2.3" fill="#fff" stroke="#222" stroke-width="0.9" />
<ellipse cx="386.9" cy="232.8" rx="5.4" ry="2.3" fill="#fff" stroke="#222" stroke-width="0.9" />
<ellipse cx="341.3" cy="240" rx="5.4" ry="2.3" fill="#fff" stroke="#222" stroke-width="0.9" />
<ellipse cx="371.5" cy="238.8" rx="5.4" ry="2.3" fill="#fff" stroke="#222" stroke-width="0.9" />
<path d="M273.1 236 L273.1 242.9 A18.8 7.1 0 0 0 310.7 242.9 L310.7 236 A18.8 7.1 0 0 0 273.1 236Z" fill="#fff" stroke="#222" stroke-width="0.9"/><ellipse cx="291.9" cy="236" rx="18.8" ry="7.1" fill="#fff" stroke="#222" stroke-width="0.9" />
<path d="M273.4 237.8 A18.5 7.1 0 0 0 310.4 237.8" fill="none" stroke="#222" stroke-width="0.55"/>
<ellipse cx="292.5" cy="234.4" rx="13.8" ry="5" fill="none" stroke="#222" stroke-width="0.9" />
<ellipse cx="292.5" cy="234.7" rx="12.2" ry="4.2" fill="none" stroke="#222" stroke-width="0.6" />
<ellipse cx="292.5" cy="235.2" rx="8.8" ry="3.4" fill="#fff" stroke="#222" stroke-width="1.0" />
<path d="M285.3 236.4 A7.2 2.5 0 0 0 299.7 236.4" fill="none" stroke="#222" stroke-width="0.6"/>
<ellipse cx="292.5" cy="236" rx="5.2" ry="1.8" fill="none" stroke="#222" stroke-width="0.6" />
<path d="M400.8 231.9 L400.8 237.5 A19.2 8 0 0 0 439.2 237.5 L439.2 231.9 A19.2 8 0 0 0 400.8 231.9Z" fill="#fff" stroke="#222" stroke-width="0.9"/><ellipse cx="420" cy="231.9" rx="19.2" ry="8" fill="#fff" stroke="#222" stroke-width="0.9" />
<path d="M401.1 233.7 A18.9 8 0 0 0 438.9 233.7" fill="none" stroke="#222" stroke-width="0.55"/>
<ellipse cx="420" cy="229.6" rx="14.4" ry="5.5" fill="none" stroke="#222" stroke-width="0.9" />
<ellipse cx="420" cy="229.9" rx="12.8" ry="4.7" fill="none" stroke="#222" stroke-width="0.6" />
<ellipse cx="420" cy="230.4" rx="10" ry="3.6" fill="#fff" stroke="#222" stroke-width="1.0" />
<path d="M411.6 231.6 A8.4 2.7 0 0 0 428.4 231.6" fill="none" stroke="#222" stroke-width="0.6"/>
<ellipse cx="420" cy="231.2" rx="6.4" ry="2" fill="none" stroke="#222" stroke-width="0.6" />
<path d="M286.2 202.4 L286.2 230 A5.75 2.09 0 0 0 297.7 230 L297.7 202.4Z" fill="#fff" stroke="#222" stroke-width="0.8"/><path d="M281.3 192.1 L281.3 202.4 A10.2 3.7 0 0 0 301.7 202.4 L301.7 192.1 A10.2 3.7 0 0 0 281.3 192.1Z" fill="#fff" stroke="#222" stroke-width="0.9"/><ellipse cx="291.5" cy="192.1" rx="10.2" ry="3.7" fill="#fff" stroke="#222" stroke-width="0.9" /><path d="M281.3 193.1 A10.2 3.7 0 0 0 301.7 193.1" fill="none" stroke="#222" stroke-width="0.5"/><ellipse cx="291.5" cy="192.1" rx="4.69" ry="1.85" fill="none" stroke="#222" stroke-width="0.9" /><ellipse cx="291.5" cy="192.3" rx="2.24" ry="0.93" fill="none" stroke="#222" stroke-width="0.5" />
<path d="M412.25 197.6 L412.25 226.5 A6.25 2.27 0 0 0 424.75 226.5 L424.75 197.6Z" fill="#fff" stroke="#222" stroke-width="0.8"/><path d="M408.2 187.2 L408.2 197.6 A10.2 3.7 0 0 0 428.6 197.6 L428.6 187.2 A10.2 3.7 0 0 0 408.2 187.2Z" fill="#fff" stroke="#222" stroke-width="0.9"/><ellipse cx="418.4" cy="187.2" rx="10.2" ry="3.7" fill="#fff" stroke="#222" stroke-width="0.9" /><path d="M408.2 188.2 A10.2 3.7 0 0 0 428.6 188.2" fill="none" stroke="#222" stroke-width="0.5"/><ellipse cx="418.4" cy="187.2" rx="4.69" ry="1.85" fill="none" stroke="#222" stroke-width="0.9" /><ellipse cx="418.4" cy="187.4" rx="2.24" ry="0.93" fill="none" stroke="#222" stroke-width="0.5" />
<line x1="291.9" y1="230" x2="291.9" y2="240" stroke="#222" stroke-width="0.5" />
<line x1="420.6" y1="226" x2="420.6" y2="236" stroke="#222" stroke-width="0.5" />
<path d="M338.4 273.3 L338.4 289.6 A4.4 1.67 0 0 0 347.2 289.6 L347.2 273.3Z" fill="#fff" stroke="#222" stroke-width="0.8"/><path d="M334.9 266.7 L334.9 273.3 A7.9 3 0 0 0 350.7 273.3 L350.7 266.7 A7.9 3 0 0 0 334.9 266.7Z" fill="#fff" stroke="#222" stroke-width="0.9"/><ellipse cx="342.8" cy="266.7" rx="7.9" ry="3" fill="#fff" stroke="#222" stroke-width="0.9" /><path d="M334.9 267.7 A7.9 3 0 0 0 350.7 267.7" fill="none" stroke="#222" stroke-width="0.5"/><ellipse cx="342.8" cy="266.7" rx="3.63" ry="1.5" fill="none" stroke="#222" stroke-width="0.9" /><ellipse cx="342.8" cy="266.9" rx="1.74" ry="0.75" fill="none" stroke="#222" stroke-width="0.5" />
<path d="M367.2 261.4 L367.2 277.8 A4.1 1.56 0 0 0 375.4 277.8 L375.4 261.4Z" fill="#fff" stroke="#222" stroke-width="0.8"/><path d="M363.4 255 L363.4 261.4 A7.9 3 0 0 0 379.2 261.4 L379.2 255 A7.9 3 0 0 0 363.4 255Z" fill="#fff" stroke="#222" stroke-width="0.9"/><ellipse cx="371.3" cy="255" rx="7.9" ry="3" fill="#fff" stroke="#222" stroke-width="0.9" /><path d="M363.4 256 A7.9 3 0 0 0 379.2 256" fill="none" stroke="#222" stroke-width="0.5"/><ellipse cx="371.3" cy="255" rx="3.63" ry="1.5" fill="none" stroke="#222" stroke-width="0.9" /><ellipse cx="371.3" cy="255.2" rx="1.74" ry="0.75" fill="none" stroke="#222" stroke-width="0.5" />
<line x1="371.6" y1="281" x2="371.6" y2="289" stroke="#222" stroke-width="0.6" stroke-dasharray="4 2"/>
<line x1="372.6" y1="314" x2="372.6" y2="346" stroke="#222" stroke-width="0.6" stroke-dasharray="5 2.5"/>
<line x1="344.3" y1="313" x2="344.3" y2="358" stroke="#222" stroke-width="0.6" stroke-dasharray="5 2.5"/>
<line x1="343.2" y1="291" x2="343.2" y2="310" stroke="#222" stroke-width="0.5" />
</g>
<g id="part_text">
<text x="47.2" y="102" font-family='"Liberation Sans","Noto Sans CJK SC",sans-serif' font-size="16.3" fill="#e3121a" stroke="#e3121a" stroke-width="0.3" textLength="25" lengthAdjust="spacingAndGlyphs" >Φ6</text>
<text x="131.2" y="188.6" font-family='"Liberation Sans","Noto Sans CJK SC",sans-serif' font-size="13.3" fill="#e3121a" stroke="#e3121a" stroke-width="0.3" textLength="36.7" lengthAdjust="spacingAndGlyphs" >15mm</text>
<text x="131" y="205.9" font-family='"Liberation Sans","Noto Sans CJK SC",sans-serif' font-size="13.3" fill="#e3121a" stroke="#e3121a" stroke-width="0.3" textLength="37.4" lengthAdjust="spacingAndGlyphs" >22mm</text>
<text x="131.7" y="226.1" font-family='"Liberation Sans","Noto Sans CJK SC",sans-serif' font-size="13.3" fill="#e3121a" stroke="#e3121a" stroke-width="0.3" textLength="37.3" lengthAdjust="spacingAndGlyphs" >45mm</text>
<text x="472.9" y="143.8" font-family='"Liberation Sans","Noto Sans CJK SC",sans-serif' font-size="16" fill="#e3121a" stroke="#e3121a" stroke-width="0.3" textLength="64.6" lengthAdjust="spacingAndGlyphs" >轴套螺丝</text>
<text x="537.6" y="143.8" font-family='"Liberation Sans","Noto Sans CJK SC",sans-serif' font-size="16.5" fill="#e3121a" stroke="#e3121a" stroke-width="0.3" textLength="87.9" lengthAdjust="spacingAndGlyphs" >(M4*12mm)</text>
<text x="449" y="159.5" font-family='"Liberation Sans","Noto Sans CJK SC",sans-serif' font-size="16.6" fill="#e3121a" stroke="#e3121a" stroke-width="0.3" textLength="199.6" lengthAdjust="spacingAndGlyphs" >Bushing screws(M4*12mm)</text>
<text x="72.2" y="392.4" font-family='"Liberation Sans","Noto Sans CJK SC",sans-serif' font-size="15.6" fill="#e3121a" stroke="#e3121a" stroke-width="0.3" textLength="31.6" lengthAdjust="spacingAndGlyphs" >铜套</text>
<text x="104.1" y="392.5" font-family='"Liberation Sans","Noto Sans CJK SC",sans-serif' font-size="16" fill="#e3121a" stroke="#e3121a" stroke-width="0.3" textLength="76.8" lengthAdjust="spacingAndGlyphs" >(Φ6<tspan dy="-2" font-size="19" font-weight="bold">→</tspan><tspan dy="2">Φ4)</tspan></text>
<text x="27.5" y="408.9" font-family='"Liberation Sans","Noto Sans CJK SC",sans-serif' font-size="16.6" fill="#e3121a" stroke="#e3121a" stroke-width="0.3" textLength="114.4" lengthAdjust="spacingAndGlyphs" >Copper Bushing</text>
<text x="147.3" y="408.8" font-family='"Liberation Sans","Noto Sans CJK SC",sans-serif' font-size="16" fill="#e3121a" stroke="#e3121a" stroke-width="0.3" textLength="77.8" lengthAdjust="spacingAndGlyphs" >(Φ6<tspan dy="-2" font-size="19" font-weight="bold">→</tspan><tspan dy="2">Φ4)</tspan></text>
<text x="547.9" y="365.8" font-family='"Liberation Sans","Noto Sans CJK SC",sans-serif' font-size="15.6" fill="#e3121a" stroke="#e3121a" stroke-width="0.3" textLength="45.6" lengthAdjust="spacingAndGlyphs" >电机轴</text>
<text x="596.4" y="365.5" font-family='"Liberation Sans","Noto Sans CJK SC",sans-serif' font-size="16" fill="#e3121a" stroke="#e3121a" stroke-width="0.3" textLength="24" lengthAdjust="spacingAndGlyphs" >Φ4</text>
<text x="529.8" y="382.5" font-family='"Liberation Sans","Noto Sans CJK SC",sans-serif' font-size="16.6" fill="#e3121a" stroke="#e3121a" stroke-width="0.3" textLength="84.4" lengthAdjust="spacingAndGlyphs" >Motor shaft</text>
<text x="615.4" y="382.5" font-family='"Liberation Sans","Noto Sans CJK SC",sans-serif' font-size="16" fill="#e3121a" stroke="#e3121a" stroke-width="0.3" textLength="24" lengthAdjust="spacingAndGlyphs" >Φ4</text>
<path d="M516.7 165.2 L482.6 165.2 L421.4 196.7" fill="none" stroke="#222" stroke-width="0.8" />
<ellipse cx="421.4" cy="196.7" rx="0.9" ry="0.9" fill="#222" stroke="#222" stroke-width="0" />
<path d="M119.4 377.2 L146.5 377.2 L349 332.6" fill="none" stroke="#222" stroke-width="0.8" />
<path d="M593.1 386.3 L528 386.3 L362 343.6" fill="none" stroke="#222" stroke-width="0.8" />
<g id="logo"><text y="42.8" font-family='"Liberation Sans",sans-serif' font-size="27.0" font-weight="bold" fill="#111" stroke="#111" stroke-width="2.4" stroke-linejoin="round"><tspan x="452.8" textLength="23.2" lengthAdjust="spacingAndGlyphs">T</tspan><tspan x="475.5" textLength="33.5" lengthAdjust="spacingAndGlyphs">A</tspan><tspan x="512.1" textLength="30.5" lengthAdjust="spacingAndGlyphs">R</tspan><tspan x="544.9" textLength="35.4" lengthAdjust="spacingAndGlyphs">O</tspan><tspan x="580" textLength="25.3" lengthAdjust="spacingAndGlyphs">T</tspan></text><text y="42.2" font-family='"Liberation Sans",sans-serif' font-size="36" font-weight="bold" fill="#111" stroke="#111" stroke-width="2.4" stroke-linejoin="round"><tspan x="606.7" textLength="34" lengthAdjust="spacingAndGlyphs">-</tspan></text><text y="42.8" font-family='"Liberation Sans",sans-serif' font-size="27.0" font-weight="bold" fill="#111" stroke="#111" stroke-width="2.4" stroke-linejoin="round"><tspan x="640.3" textLength="32.2" lengthAdjust="spacingAndGlyphs">R</tspan><tspan x="674.7" textLength="23.6" lengthAdjust="spacingAndGlyphs">C</tspan></text>
<text y="41.5" font-family='"Liberation Sans",sans-serif' font-size="27.0" font-weight="bold" fill="#111" stroke="#111" stroke-width="2.0" stroke-linejoin="round"><tspan x="454.3" textLength="23.2" lengthAdjust="spacingAndGlyphs">T</tspan><tspan x="477" textLength="33.5" lengthAdjust="spacingAndGlyphs">A</tspan><tspan x="513.6" textLength="30.5" lengthAdjust="spacingAndGlyphs">R</tspan><tspan x="546.4" textLength="35.4" lengthAdjust="spacingAndGlyphs">O</tspan><tspan x="581.5" textLength="25.3" lengthAdjust="spacingAndGlyphs">T</tspan></text><text y="40.9" font-family='"Liberation Sans",sans-serif' font-size="36" font-weight="bold" fill="#111" stroke="#111" stroke-width="2.0" stroke-linejoin="round"><tspan x="608.2" textLength="34" lengthAdjust="spacingAndGlyphs">-</tspan></text><text y="41.5" font-family='"Liberation Sans",sans-serif' font-size="27.0" font-weight="bold" fill="#111" stroke="#111" stroke-width="2.0" stroke-linejoin="round"><tspan x="641.8" textLength="32.2" lengthAdjust="spacingAndGlyphs">R</tspan><tspan x="676.2" textLength="23.6" lengthAdjust="spacingAndGlyphs">C</tspan></text>
<text y="41.5" font-family='"Liberation Sans",sans-serif' font-size="27.0" font-weight="bold" fill="#fff" stroke="#fff" stroke-width="0.8" stroke-linejoin="round"><tspan x="454.3" textLength="23.2" lengthAdjust="spacingAndGlyphs">T</tspan><tspan x="477" textLength="33.5" lengthAdjust="spacingAndGlyphs">A</tspan><tspan x="513.6" textLength="30.5" lengthAdjust="spacingAndGlyphs">R</tspan><tspan x="546.4" textLength="35.4" lengthAdjust="spacingAndGlyphs">O</tspan><tspan x="581.5" textLength="25.3" lengthAdjust="spacingAndGlyphs">T</tspan></text><text y="40.9" font-family='"Liberation Sans",sans-serif' font-size="36" font-weight="bold" fill="#fff" stroke="#fff" stroke-width="0.8" stroke-linejoin="round"><tspan x="608.2" textLength="34" lengthAdjust="spacingAndGlyphs">-</tspan></text><text y="41.5" font-family='"Liberation Sans",sans-serif' font-size="27.0" font-weight="bold" fill="#fff" stroke="#fff" stroke-width="0.8" stroke-linejoin="round"><tspan x="641.8" textLength="32.2" lengthAdjust="spacingAndGlyphs">R</tspan><tspan x="676.2" textLength="23.6" lengthAdjust="spacingAndGlyphs">C</tspan></text></g>
</g>
</svg>
</body></html>
